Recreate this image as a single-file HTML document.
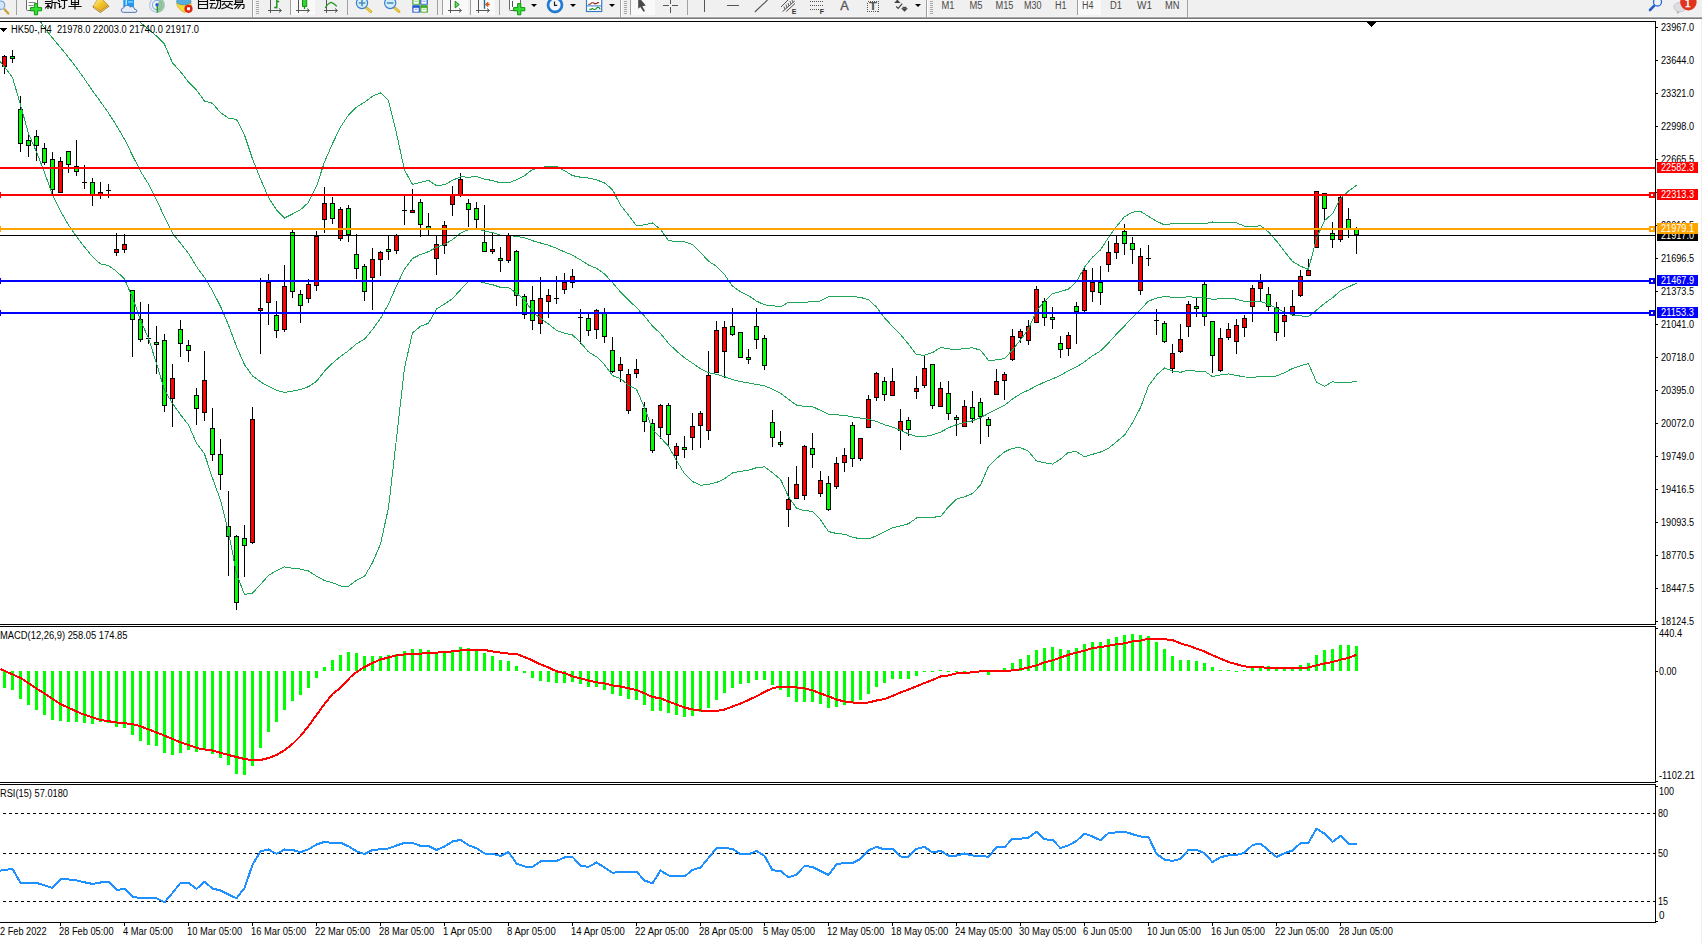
<!DOCTYPE html>
<html><head><meta charset="utf-8"><title>HK50-,H4</title>
<style>
html,body{margin:0;padding:0;background:#fff;overflow:hidden}
svg{display:block;font-family:"Liberation Sans",sans-serif}
</style></head><body>
<svg width="1702" height="943" viewBox="0 0 1702 943" shape-rendering="crispEdges">
<rect width="1702" height="943" fill="#fff"/>
<rect x="0" y="21" width="1656" height="1" fill="#000"/>
<rect x="0" y="624" width="1656" height="1" fill="#000"/>
<rect x="0" y="626" width="1656" height="1" fill="#000"/>
<rect x="0" y="782" width="1656" height="1" fill="#000"/>
<rect x="0" y="784" width="1656" height="1" fill="#000"/>
<rect x="0" y="922" width="1656" height="1" fill="#000"/>
<rect x="1655" y="21" width="1" height="604" fill="#000"/>
<rect x="1655" y="626" width="1" height="157" fill="#000"/>
<rect x="1655" y="784" width="1" height="139" fill="#000"/>
<rect x="4" y="55" width="1" height="19" fill="#000"/>
<rect x="2" y="56" width="5" height="11" fill="#000"/>
<rect x="3" y="57" width="3" height="9" fill="#f00"/>
<rect x="12" y="50" width="1" height="13" fill="#000"/>
<rect x="10" y="56" width="5" height="3" fill="#000"/>
<rect x="11" y="57" width="3" height="1" fill="#0f0"/>
<rect x="20" y="96" width="1" height="56" fill="#000"/>
<rect x="18" y="109" width="5" height="35" fill="#000"/>
<rect x="19" y="110" width="3" height="33" fill="#0f0"/>
<rect x="28" y="135" width="1" height="22" fill="#000"/>
<rect x="26" y="140" width="5" height="6" fill="#000"/>
<rect x="27" y="141" width="3" height="4" fill="#0f0"/>
<rect x="36" y="130" width="1" height="31" fill="#000"/>
<rect x="34" y="136" width="5" height="10" fill="#000"/>
<rect x="35" y="137" width="3" height="8" fill="#0f0"/>
<rect x="44" y="143" width="1" height="22" fill="#000"/>
<rect x="42" y="148" width="5" height="15" fill="#000"/>
<rect x="43" y="149" width="3" height="13" fill="#0f0"/>
<rect x="52" y="152" width="1" height="42" fill="#000"/>
<rect x="50" y="159" width="5" height="31" fill="#000"/>
<rect x="51" y="160" width="3" height="29" fill="#0f0"/>
<rect x="60" y="157" width="1" height="36" fill="#000"/>
<rect x="58" y="161" width="5" height="32" fill="#000"/>
<rect x="59" y="162" width="3" height="30" fill="#f00"/>
<rect x="68" y="151" width="1" height="22" fill="#000"/>
<rect x="66" y="151" width="5" height="14" fill="#000"/>
<rect x="67" y="152" width="3" height="12" fill="#0f0"/>
<rect x="76" y="140" width="1" height="36" fill="#000"/>
<rect x="74" y="166" width="5" height="6" fill="#000"/>
<rect x="75" y="167" width="3" height="4" fill="#0f0"/>
<rect x="84" y="165" width="1" height="24" fill="#000"/>
<rect x="82" y="182" width="5" height="1" fill="#000"/>
<rect x="92" y="178" width="1" height="28" fill="#000"/>
<rect x="90" y="182" width="5" height="13" fill="#000"/>
<rect x="91" y="183" width="3" height="11" fill="#0f0"/>
<rect x="100" y="182" width="1" height="17" fill="#000"/>
<rect x="98" y="192" width="5" height="3" fill="#000"/>
<rect x="99" y="193" width="3" height="1" fill="#f00"/>
<rect x="108" y="184" width="1" height="14" fill="#000"/>
<rect x="106" y="190" width="5" height="1" fill="#000"/>
<rect x="116" y="233" width="1" height="23" fill="#000"/>
<rect x="114" y="249" width="5" height="4" fill="#000"/>
<rect x="115" y="250" width="3" height="2" fill="#f00"/>
<rect x="124" y="234" width="1" height="19" fill="#000"/>
<rect x="122" y="244" width="5" height="6" fill="#000"/>
<rect x="123" y="245" width="3" height="4" fill="#f00"/>
<rect x="132" y="290" width="1" height="67" fill="#000"/>
<rect x="130" y="290" width="5" height="30" fill="#000"/>
<rect x="131" y="291" width="3" height="28" fill="#0f0"/>
<rect x="140" y="302" width="1" height="40" fill="#000"/>
<rect x="138" y="319" width="5" height="21" fill="#000"/>
<rect x="139" y="320" width="3" height="19" fill="#0f0"/>
<rect x="148" y="304" width="1" height="40" fill="#000"/>
<rect x="146" y="338" width="5" height="1" fill="#000"/>
<rect x="156" y="326" width="1" height="48" fill="#000"/>
<rect x="154" y="342" width="5" height="3" fill="#000"/>
<rect x="155" y="343" width="3" height="1" fill="#0f0"/>
<rect x="164" y="334" width="1" height="78" fill="#000"/>
<rect x="162" y="340" width="5" height="66" fill="#000"/>
<rect x="163" y="341" width="3" height="64" fill="#0f0"/>
<rect x="172" y="364" width="1" height="63" fill="#000"/>
<rect x="170" y="378" width="5" height="21" fill="#000"/>
<rect x="171" y="379" width="3" height="19" fill="#f00"/>
<rect x="180" y="320" width="1" height="37" fill="#000"/>
<rect x="178" y="329" width="5" height="15" fill="#000"/>
<rect x="179" y="330" width="3" height="13" fill="#0f0"/>
<rect x="188" y="340" width="1" height="22" fill="#000"/>
<rect x="186" y="345" width="5" height="6" fill="#000"/>
<rect x="187" y="346" width="3" height="4" fill="#0f0"/>
<rect x="196" y="388" width="1" height="37" fill="#000"/>
<rect x="194" y="395" width="5" height="14" fill="#000"/>
<rect x="195" y="396" width="3" height="12" fill="#0f0"/>
<rect x="204" y="351" width="1" height="70" fill="#000"/>
<rect x="202" y="380" width="5" height="33" fill="#000"/>
<rect x="203" y="381" width="3" height="31" fill="#f00"/>
<rect x="212" y="408" width="1" height="53" fill="#000"/>
<rect x="210" y="428" width="5" height="27" fill="#000"/>
<rect x="211" y="429" width="3" height="25" fill="#0f0"/>
<rect x="220" y="439" width="1" height="51" fill="#000"/>
<rect x="218" y="454" width="5" height="21" fill="#000"/>
<rect x="219" y="455" width="3" height="19" fill="#0f0"/>
<rect x="228" y="491" width="1" height="85" fill="#000"/>
<rect x="226" y="526" width="5" height="11" fill="#000"/>
<rect x="227" y="527" width="3" height="9" fill="#0f0"/>
<rect x="236" y="535" width="1" height="75" fill="#000"/>
<rect x="234" y="536" width="5" height="67" fill="#000"/>
<rect x="235" y="537" width="3" height="65" fill="#0f0"/>
<rect x="244" y="525" width="1" height="52" fill="#000"/>
<rect x="242" y="538" width="5" height="8" fill="#000"/>
<rect x="243" y="539" width="3" height="6" fill="#0f0"/>
<rect x="252" y="407" width="1" height="137" fill="#000"/>
<rect x="250" y="419" width="5" height="124" fill="#000"/>
<rect x="251" y="420" width="3" height="122" fill="#f00"/>
<rect x="260" y="278" width="1" height="76" fill="#000"/>
<rect x="258" y="308" width="5" height="3" fill="#000"/>
<rect x="259" y="309" width="3" height="1" fill="#f00"/>
<rect x="268" y="274" width="1" height="51" fill="#000"/>
<rect x="266" y="282" width="5" height="21" fill="#000"/>
<rect x="267" y="283" width="3" height="19" fill="#f00"/>
<rect x="276" y="301" width="1" height="37" fill="#000"/>
<rect x="274" y="315" width="5" height="16" fill="#000"/>
<rect x="275" y="316" width="3" height="14" fill="#0f0"/>
<rect x="284" y="265" width="1" height="67" fill="#000"/>
<rect x="282" y="286" width="5" height="44" fill="#000"/>
<rect x="283" y="287" width="3" height="42" fill="#f00"/>
<rect x="292" y="230" width="1" height="68" fill="#000"/>
<rect x="290" y="232" width="5" height="60" fill="#000"/>
<rect x="291" y="233" width="3" height="58" fill="#0f0"/>
<rect x="300" y="290" width="1" height="33" fill="#000"/>
<rect x="298" y="294" width="5" height="12" fill="#000"/>
<rect x="299" y="295" width="3" height="10" fill="#0f0"/>
<rect x="308" y="279" width="1" height="24" fill="#000"/>
<rect x="306" y="284" width="5" height="15" fill="#000"/>
<rect x="307" y="285" width="3" height="13" fill="#f00"/>
<rect x="316" y="231" width="1" height="60" fill="#000"/>
<rect x="314" y="236" width="5" height="50" fill="#000"/>
<rect x="315" y="237" width="3" height="48" fill="#f00"/>
<rect x="324" y="187" width="1" height="46" fill="#000"/>
<rect x="322" y="203" width="5" height="17" fill="#000"/>
<rect x="323" y="204" width="3" height="15" fill="#f00"/>
<rect x="332" y="197" width="1" height="27" fill="#000"/>
<rect x="330" y="203" width="5" height="16" fill="#000"/>
<rect x="331" y="204" width="3" height="14" fill="#0f0"/>
<rect x="340" y="207" width="1" height="34" fill="#000"/>
<rect x="338" y="209" width="5" height="30" fill="#000"/>
<rect x="339" y="210" width="3" height="28" fill="#f00"/>
<rect x="348" y="205" width="1" height="37" fill="#000"/>
<rect x="346" y="208" width="5" height="27" fill="#000"/>
<rect x="347" y="209" width="3" height="25" fill="#0f0"/>
<rect x="356" y="234" width="1" height="45" fill="#000"/>
<rect x="354" y="254" width="5" height="15" fill="#000"/>
<rect x="355" y="255" width="3" height="13" fill="#0f0"/>
<rect x="364" y="264" width="1" height="37" fill="#000"/>
<rect x="362" y="266" width="5" height="26" fill="#000"/>
<rect x="363" y="267" width="3" height="24" fill="#0f0"/>
<rect x="372" y="248" width="1" height="62" fill="#000"/>
<rect x="370" y="259" width="5" height="19" fill="#000"/>
<rect x="371" y="260" width="3" height="17" fill="#f00"/>
<rect x="380" y="251" width="1" height="25" fill="#000"/>
<rect x="378" y="252" width="5" height="8" fill="#000"/>
<rect x="379" y="253" width="3" height="6" fill="#f00"/>
<rect x="388" y="235" width="1" height="25" fill="#000"/>
<rect x="386" y="249" width="5" height="3" fill="#000"/>
<rect x="387" y="250" width="3" height="1" fill="#0f0"/>
<rect x="396" y="234" width="1" height="20" fill="#000"/>
<rect x="394" y="235" width="5" height="16" fill="#000"/>
<rect x="395" y="236" width="3" height="14" fill="#f00"/>
<rect x="404" y="196" width="1" height="29" fill="#000"/>
<rect x="402" y="210" width="5" height="1" fill="#000"/>
<rect x="412" y="189" width="1" height="24" fill="#000"/>
<rect x="410" y="210" width="5" height="3" fill="#000"/>
<rect x="411" y="211" width="3" height="1" fill="#f00"/>
<rect x="420" y="199" width="1" height="38" fill="#000"/>
<rect x="418" y="202" width="5" height="23" fill="#000"/>
<rect x="419" y="203" width="3" height="21" fill="#0f0"/>
<rect x="428" y="213" width="1" height="22" fill="#000"/>
<rect x="426" y="226" width="5" height="3" fill="#000"/>
<rect x="427" y="227" width="3" height="1" fill="#0f0"/>
<rect x="436" y="235" width="1" height="40" fill="#000"/>
<rect x="434" y="244" width="5" height="15" fill="#000"/>
<rect x="435" y="245" width="3" height="13" fill="#f00"/>
<rect x="444" y="221" width="1" height="33" fill="#000"/>
<rect x="442" y="225" width="5" height="21" fill="#000"/>
<rect x="443" y="226" width="3" height="19" fill="#f00"/>
<rect x="452" y="186" width="1" height="30" fill="#000"/>
<rect x="450" y="195" width="5" height="10" fill="#000"/>
<rect x="451" y="196" width="3" height="8" fill="#f00"/>
<rect x="460" y="173" width="1" height="24" fill="#000"/>
<rect x="458" y="179" width="5" height="16" fill="#000"/>
<rect x="459" y="180" width="3" height="14" fill="#f00"/>
<rect x="468" y="199" width="1" height="28" fill="#000"/>
<rect x="466" y="203" width="5" height="7" fill="#000"/>
<rect x="467" y="204" width="3" height="5" fill="#0f0"/>
<rect x="476" y="202" width="1" height="26" fill="#000"/>
<rect x="474" y="208" width="5" height="12" fill="#000"/>
<rect x="475" y="209" width="3" height="10" fill="#0f0"/>
<rect x="484" y="205" width="1" height="47" fill="#000"/>
<rect x="482" y="242" width="5" height="10" fill="#000"/>
<rect x="483" y="243" width="3" height="8" fill="#0f0"/>
<rect x="492" y="233" width="1" height="21" fill="#000"/>
<rect x="490" y="249" width="5" height="3" fill="#000"/>
<rect x="491" y="250" width="3" height="1" fill="#f00"/>
<rect x="500" y="247" width="1" height="25" fill="#000"/>
<rect x="498" y="258" width="5" height="3" fill="#000"/>
<rect x="499" y="259" width="3" height="1" fill="#0f0"/>
<rect x="508" y="233" width="1" height="30" fill="#000"/>
<rect x="506" y="235" width="5" height="26" fill="#000"/>
<rect x="507" y="236" width="3" height="24" fill="#f00"/>
<rect x="516" y="250" width="1" height="56" fill="#000"/>
<rect x="514" y="251" width="5" height="45" fill="#000"/>
<rect x="515" y="252" width="3" height="43" fill="#0f0"/>
<rect x="524" y="294" width="1" height="25" fill="#000"/>
<rect x="522" y="296" width="5" height="19" fill="#000"/>
<rect x="523" y="297" width="3" height="17" fill="#0f0"/>
<rect x="532" y="286" width="1" height="44" fill="#000"/>
<rect x="530" y="300" width="5" height="21" fill="#000"/>
<rect x="531" y="301" width="3" height="19" fill="#0f0"/>
<rect x="540" y="277" width="1" height="57" fill="#000"/>
<rect x="538" y="298" width="5" height="26" fill="#000"/>
<rect x="539" y="299" width="3" height="24" fill="#f00"/>
<rect x="548" y="289" width="1" height="29" fill="#000"/>
<rect x="546" y="295" width="5" height="7" fill="#000"/>
<rect x="547" y="296" width="3" height="5" fill="#f00"/>
<rect x="556" y="276" width="1" height="28" fill="#000"/>
<rect x="554" y="298" width="5" height="1" fill="#000"/>
<rect x="564" y="273" width="1" height="21" fill="#000"/>
<rect x="562" y="282" width="5" height="8" fill="#000"/>
<rect x="563" y="283" width="3" height="6" fill="#f00"/>
<rect x="572" y="269" width="1" height="19" fill="#000"/>
<rect x="570" y="276" width="5" height="7" fill="#000"/>
<rect x="571" y="277" width="3" height="5" fill="#f00"/>
<rect x="580" y="309" width="1" height="35" fill="#000"/>
<rect x="578" y="317" width="5" height="1" fill="#000"/>
<rect x="588" y="314" width="1" height="22" fill="#000"/>
<rect x="586" y="318" width="5" height="13" fill="#000"/>
<rect x="587" y="319" width="3" height="11" fill="#0f0"/>
<rect x="596" y="309" width="1" height="30" fill="#000"/>
<rect x="594" y="310" width="5" height="20" fill="#000"/>
<rect x="595" y="311" width="3" height="18" fill="#f00"/>
<rect x="604" y="308" width="1" height="35" fill="#000"/>
<rect x="602" y="313" width="5" height="24" fill="#000"/>
<rect x="603" y="314" width="3" height="22" fill="#0f0"/>
<rect x="612" y="337" width="1" height="36" fill="#000"/>
<rect x="610" y="350" width="5" height="22" fill="#000"/>
<rect x="611" y="351" width="3" height="20" fill="#0f0"/>
<rect x="620" y="357" width="1" height="25" fill="#000"/>
<rect x="618" y="364" width="5" height="7" fill="#000"/>
<rect x="619" y="365" width="3" height="5" fill="#f00"/>
<rect x="628" y="369" width="1" height="45" fill="#000"/>
<rect x="626" y="374" width="5" height="37" fill="#000"/>
<rect x="627" y="375" width="3" height="35" fill="#f00"/>
<rect x="636" y="359" width="1" height="19" fill="#000"/>
<rect x="634" y="369" width="5" height="5" fill="#000"/>
<rect x="635" y="370" width="3" height="3" fill="#f00"/>
<rect x="644" y="402" width="1" height="30" fill="#000"/>
<rect x="642" y="408" width="5" height="14" fill="#000"/>
<rect x="643" y="409" width="3" height="12" fill="#0f0"/>
<rect x="652" y="419" width="1" height="34" fill="#000"/>
<rect x="650" y="423" width="5" height="28" fill="#000"/>
<rect x="651" y="424" width="3" height="26" fill="#0f0"/>
<rect x="660" y="404" width="1" height="35" fill="#000"/>
<rect x="658" y="405" width="5" height="23" fill="#000"/>
<rect x="659" y="406" width="3" height="21" fill="#f00"/>
<rect x="668" y="403" width="1" height="42" fill="#000"/>
<rect x="666" y="405" width="5" height="30" fill="#000"/>
<rect x="667" y="406" width="3" height="28" fill="#0f0"/>
<rect x="676" y="443" width="1" height="26" fill="#000"/>
<rect x="674" y="446" width="5" height="10" fill="#000"/>
<rect x="675" y="447" width="3" height="8" fill="#f00"/>
<rect x="684" y="436" width="1" height="22" fill="#000"/>
<rect x="682" y="447" width="5" height="3" fill="#000"/>
<rect x="683" y="448" width="3" height="1" fill="#0f0"/>
<rect x="692" y="413" width="1" height="37" fill="#000"/>
<rect x="690" y="426" width="5" height="12" fill="#000"/>
<rect x="691" y="427" width="3" height="10" fill="#f00"/>
<rect x="700" y="411" width="1" height="37" fill="#000"/>
<rect x="698" y="413" width="5" height="13" fill="#000"/>
<rect x="699" y="414" width="3" height="11" fill="#f00"/>
<rect x="708" y="351" width="1" height="89" fill="#000"/>
<rect x="706" y="375" width="5" height="56" fill="#000"/>
<rect x="707" y="376" width="3" height="54" fill="#f00"/>
<rect x="716" y="321" width="1" height="52" fill="#000"/>
<rect x="714" y="330" width="5" height="43" fill="#000"/>
<rect x="715" y="331" width="3" height="41" fill="#f00"/>
<rect x="724" y="321" width="1" height="57" fill="#000"/>
<rect x="722" y="327" width="5" height="25" fill="#000"/>
<rect x="723" y="328" width="3" height="23" fill="#f00"/>
<rect x="732" y="308" width="1" height="28" fill="#000"/>
<rect x="730" y="326" width="5" height="9" fill="#000"/>
<rect x="731" y="327" width="3" height="7" fill="#0f0"/>
<rect x="740" y="332" width="1" height="26" fill="#000"/>
<rect x="738" y="332" width="5" height="26" fill="#000"/>
<rect x="739" y="333" width="3" height="24" fill="#0f0"/>
<rect x="748" y="349" width="1" height="15" fill="#000"/>
<rect x="746" y="357" width="5" height="3" fill="#000"/>
<rect x="747" y="358" width="3" height="1" fill="#0f0"/>
<rect x="756" y="308" width="1" height="41" fill="#000"/>
<rect x="754" y="326" width="5" height="14" fill="#000"/>
<rect x="755" y="327" width="3" height="12" fill="#0f0"/>
<rect x="764" y="335" width="1" height="35" fill="#000"/>
<rect x="762" y="338" width="5" height="28" fill="#000"/>
<rect x="763" y="339" width="3" height="26" fill="#0f0"/>
<rect x="772" y="410" width="1" height="37" fill="#000"/>
<rect x="770" y="422" width="5" height="16" fill="#000"/>
<rect x="771" y="423" width="3" height="14" fill="#0f0"/>
<rect x="780" y="431" width="1" height="16" fill="#000"/>
<rect x="778" y="442" width="5" height="3" fill="#000"/>
<rect x="779" y="443" width="3" height="1" fill="#0f0"/>
<rect x="788" y="477" width="1" height="50" fill="#000"/>
<rect x="786" y="499" width="5" height="11" fill="#000"/>
<rect x="787" y="500" width="3" height="9" fill="#f00"/>
<rect x="796" y="466" width="1" height="33" fill="#000"/>
<rect x="794" y="484" width="5" height="15" fill="#000"/>
<rect x="795" y="485" width="3" height="13" fill="#f00"/>
<rect x="804" y="445" width="1" height="55" fill="#000"/>
<rect x="802" y="446" width="5" height="50" fill="#000"/>
<rect x="803" y="447" width="3" height="48" fill="#f00"/>
<rect x="812" y="433" width="1" height="35" fill="#000"/>
<rect x="810" y="448" width="5" height="7" fill="#000"/>
<rect x="811" y="449" width="3" height="5" fill="#0f0"/>
<rect x="820" y="471" width="1" height="26" fill="#000"/>
<rect x="818" y="480" width="5" height="14" fill="#000"/>
<rect x="819" y="481" width="3" height="12" fill="#f00"/>
<rect x="828" y="476" width="1" height="35" fill="#000"/>
<rect x="826" y="483" width="5" height="27" fill="#000"/>
<rect x="827" y="484" width="3" height="25" fill="#0f0"/>
<rect x="836" y="457" width="1" height="32" fill="#000"/>
<rect x="834" y="463" width="5" height="24" fill="#000"/>
<rect x="835" y="464" width="3" height="22" fill="#f00"/>
<rect x="844" y="448" width="1" height="24" fill="#000"/>
<rect x="842" y="455" width="5" height="8" fill="#000"/>
<rect x="843" y="456" width="3" height="6" fill="#f00"/>
<rect x="852" y="422" width="1" height="45" fill="#000"/>
<rect x="850" y="425" width="5" height="34" fill="#000"/>
<rect x="851" y="426" width="3" height="32" fill="#0f0"/>
<rect x="860" y="438" width="1" height="23" fill="#000"/>
<rect x="858" y="438" width="5" height="21" fill="#000"/>
<rect x="859" y="439" width="3" height="19" fill="#f00"/>
<rect x="868" y="395" width="1" height="33" fill="#000"/>
<rect x="866" y="399" width="5" height="29" fill="#000"/>
<rect x="867" y="400" width="3" height="27" fill="#f00"/>
<rect x="876" y="372" width="1" height="29" fill="#000"/>
<rect x="874" y="373" width="5" height="25" fill="#000"/>
<rect x="875" y="374" width="3" height="23" fill="#f00"/>
<rect x="884" y="377" width="1" height="24" fill="#000"/>
<rect x="882" y="381" width="5" height="14" fill="#000"/>
<rect x="883" y="382" width="3" height="12" fill="#0f0"/>
<rect x="892" y="368" width="1" height="28" fill="#000"/>
<rect x="890" y="381" width="5" height="15" fill="#000"/>
<rect x="891" y="382" width="3" height="13" fill="#f00"/>
<rect x="900" y="409" width="1" height="41" fill="#000"/>
<rect x="898" y="421" width="5" height="10" fill="#000"/>
<rect x="899" y="422" width="3" height="8" fill="#f00"/>
<rect x="908" y="417" width="1" height="19" fill="#000"/>
<rect x="906" y="420" width="5" height="10" fill="#000"/>
<rect x="907" y="421" width="3" height="8" fill="#0f0"/>
<rect x="916" y="376" width="1" height="23" fill="#000"/>
<rect x="914" y="388" width="5" height="4" fill="#000"/>
<rect x="915" y="389" width="3" height="2" fill="#f00"/>
<rect x="924" y="356" width="1" height="32" fill="#000"/>
<rect x="922" y="368" width="5" height="18" fill="#000"/>
<rect x="923" y="369" width="3" height="16" fill="#f00"/>
<rect x="932" y="364" width="1" height="45" fill="#000"/>
<rect x="930" y="364" width="5" height="42" fill="#000"/>
<rect x="931" y="365" width="3" height="40" fill="#0f0"/>
<rect x="940" y="382" width="1" height="25" fill="#000"/>
<rect x="938" y="388" width="5" height="19" fill="#000"/>
<rect x="939" y="389" width="3" height="17" fill="#f00"/>
<rect x="948" y="381" width="1" height="39" fill="#000"/>
<rect x="946" y="393" width="5" height="21" fill="#000"/>
<rect x="947" y="394" width="3" height="19" fill="#0f0"/>
<rect x="956" y="415" width="1" height="21" fill="#000"/>
<rect x="954" y="417" width="5" height="3" fill="#000"/>
<rect x="955" y="418" width="3" height="1" fill="#0f0"/>
<rect x="964" y="400" width="1" height="27" fill="#000"/>
<rect x="962" y="406" width="5" height="21" fill="#000"/>
<rect x="963" y="407" width="3" height="19" fill="#f00"/>
<rect x="972" y="391" width="1" height="32" fill="#000"/>
<rect x="970" y="407" width="5" height="12" fill="#000"/>
<rect x="971" y="408" width="3" height="10" fill="#0f0"/>
<rect x="980" y="398" width="1" height="46" fill="#000"/>
<rect x="978" y="402" width="5" height="15" fill="#000"/>
<rect x="979" y="403" width="3" height="13" fill="#0f0"/>
<rect x="988" y="417" width="1" height="20" fill="#000"/>
<rect x="986" y="419" width="5" height="7" fill="#000"/>
<rect x="987" y="420" width="3" height="5" fill="#0f0"/>
<rect x="996" y="369" width="1" height="26" fill="#000"/>
<rect x="994" y="381" width="5" height="14" fill="#000"/>
<rect x="995" y="382" width="3" height="12" fill="#f00"/>
<rect x="1004" y="372" width="1" height="28" fill="#000"/>
<rect x="1002" y="374" width="5" height="7" fill="#000"/>
<rect x="1003" y="375" width="3" height="5" fill="#f00"/>
<rect x="1012" y="329" width="1" height="32" fill="#000"/>
<rect x="1010" y="336" width="5" height="24" fill="#000"/>
<rect x="1011" y="337" width="3" height="22" fill="#f00"/>
<rect x="1020" y="329" width="1" height="14" fill="#000"/>
<rect x="1018" y="331" width="5" height="7" fill="#000"/>
<rect x="1019" y="332" width="3" height="5" fill="#f00"/>
<rect x="1028" y="320" width="1" height="25" fill="#000"/>
<rect x="1026" y="326" width="5" height="15" fill="#000"/>
<rect x="1027" y="327" width="3" height="13" fill="#f00"/>
<rect x="1036" y="286" width="1" height="37" fill="#000"/>
<rect x="1034" y="289" width="5" height="34" fill="#000"/>
<rect x="1035" y="290" width="3" height="32" fill="#f00"/>
<rect x="1044" y="298" width="1" height="28" fill="#000"/>
<rect x="1042" y="301" width="5" height="17" fill="#000"/>
<rect x="1043" y="302" width="3" height="15" fill="#0f0"/>
<rect x="1052" y="307" width="1" height="22" fill="#000"/>
<rect x="1050" y="317" width="5" height="3" fill="#000"/>
<rect x="1051" y="318" width="3" height="1" fill="#0f0"/>
<rect x="1060" y="336" width="1" height="22" fill="#000"/>
<rect x="1058" y="343" width="5" height="7" fill="#000"/>
<rect x="1059" y="344" width="3" height="5" fill="#0f0"/>
<rect x="1068" y="332" width="1" height="24" fill="#000"/>
<rect x="1066" y="335" width="5" height="14" fill="#000"/>
<rect x="1067" y="336" width="3" height="12" fill="#f00"/>
<rect x="1076" y="302" width="1" height="42" fill="#000"/>
<rect x="1074" y="306" width="5" height="6" fill="#000"/>
<rect x="1075" y="307" width="3" height="4" fill="#0f0"/>
<rect x="1084" y="266" width="1" height="46" fill="#000"/>
<rect x="1082" y="270" width="5" height="41" fill="#000"/>
<rect x="1083" y="271" width="3" height="39" fill="#f00"/>
<rect x="1092" y="268" width="1" height="34" fill="#000"/>
<rect x="1090" y="282" width="5" height="10" fill="#000"/>
<rect x="1091" y="283" width="3" height="8" fill="#f00"/>
<rect x="1100" y="266" width="1" height="39" fill="#000"/>
<rect x="1098" y="282" width="5" height="11" fill="#000"/>
<rect x="1099" y="283" width="3" height="9" fill="#0f0"/>
<rect x="1108" y="241" width="1" height="31" fill="#000"/>
<rect x="1106" y="252" width="5" height="13" fill="#000"/>
<rect x="1107" y="253" width="3" height="11" fill="#f00"/>
<rect x="1116" y="235" width="1" height="24" fill="#000"/>
<rect x="1114" y="243" width="5" height="10" fill="#000"/>
<rect x="1115" y="244" width="3" height="8" fill="#f00"/>
<rect x="1124" y="224" width="1" height="31" fill="#000"/>
<rect x="1122" y="231" width="5" height="13" fill="#000"/>
<rect x="1123" y="232" width="3" height="11" fill="#0f0"/>
<rect x="1132" y="237" width="1" height="27" fill="#000"/>
<rect x="1130" y="243" width="5" height="7" fill="#000"/>
<rect x="1131" y="244" width="3" height="5" fill="#0f0"/>
<rect x="1140" y="248" width="1" height="47" fill="#000"/>
<rect x="1138" y="256" width="5" height="35" fill="#000"/>
<rect x="1139" y="257" width="3" height="33" fill="#f00"/>
<rect x="1148" y="245" width="1" height="21" fill="#000"/>
<rect x="1146" y="258" width="5" height="1" fill="#000"/>
<rect x="1156" y="309" width="1" height="26" fill="#000"/>
<rect x="1154" y="320" width="5" height="1" fill="#000"/>
<rect x="1164" y="321" width="1" height="22" fill="#000"/>
<rect x="1162" y="323" width="5" height="19" fill="#000"/>
<rect x="1163" y="324" width="3" height="17" fill="#0f0"/>
<rect x="1172" y="344" width="1" height="29" fill="#000"/>
<rect x="1170" y="353" width="5" height="16" fill="#000"/>
<rect x="1171" y="354" width="3" height="14" fill="#f00"/>
<rect x="1180" y="324" width="1" height="29" fill="#000"/>
<rect x="1178" y="339" width="5" height="13" fill="#000"/>
<rect x="1179" y="340" width="3" height="11" fill="#f00"/>
<rect x="1188" y="301" width="1" height="36" fill="#000"/>
<rect x="1186" y="304" width="5" height="23" fill="#000"/>
<rect x="1187" y="305" width="3" height="21" fill="#f00"/>
<rect x="1196" y="298" width="1" height="19" fill="#000"/>
<rect x="1194" y="306" width="5" height="3" fill="#000"/>
<rect x="1195" y="307" width="3" height="1" fill="#0f0"/>
<rect x="1204" y="282" width="1" height="44" fill="#000"/>
<rect x="1202" y="284" width="5" height="33" fill="#000"/>
<rect x="1203" y="285" width="3" height="31" fill="#0f0"/>
<rect x="1212" y="321" width="1" height="52" fill="#000"/>
<rect x="1210" y="321" width="5" height="35" fill="#000"/>
<rect x="1211" y="322" width="3" height="33" fill="#0f0"/>
<rect x="1220" y="328" width="1" height="44" fill="#000"/>
<rect x="1218" y="338" width="5" height="33" fill="#000"/>
<rect x="1219" y="339" width="3" height="31" fill="#f00"/>
<rect x="1228" y="323" width="1" height="17" fill="#000"/>
<rect x="1226" y="329" width="5" height="9" fill="#000"/>
<rect x="1227" y="330" width="3" height="7" fill="#f00"/>
<rect x="1236" y="319" width="1" height="35" fill="#000"/>
<rect x="1234" y="325" width="5" height="17" fill="#000"/>
<rect x="1235" y="326" width="3" height="15" fill="#f00"/>
<rect x="1244" y="315" width="1" height="22" fill="#000"/>
<rect x="1242" y="318" width="5" height="10" fill="#000"/>
<rect x="1243" y="319" width="3" height="8" fill="#f00"/>
<rect x="1252" y="285" width="1" height="37" fill="#000"/>
<rect x="1250" y="288" width="5" height="19" fill="#000"/>
<rect x="1251" y="289" width="3" height="17" fill="#f00"/>
<rect x="1260" y="274" width="1" height="27" fill="#000"/>
<rect x="1258" y="282" width="5" height="7" fill="#000"/>
<rect x="1259" y="283" width="3" height="5" fill="#f00"/>
<rect x="1268" y="287" width="1" height="24" fill="#000"/>
<rect x="1266" y="294" width="5" height="13" fill="#000"/>
<rect x="1267" y="295" width="3" height="11" fill="#0f0"/>
<rect x="1276" y="302" width="1" height="39" fill="#000"/>
<rect x="1274" y="307" width="5" height="26" fill="#000"/>
<rect x="1275" y="308" width="3" height="24" fill="#0f0"/>
<rect x="1284" y="307" width="1" height="30" fill="#000"/>
<rect x="1282" y="315" width="5" height="7" fill="#000"/>
<rect x="1283" y="316" width="3" height="5" fill="#f00"/>
<rect x="1292" y="290" width="1" height="26" fill="#000"/>
<rect x="1290" y="306" width="5" height="9" fill="#000"/>
<rect x="1291" y="307" width="3" height="7" fill="#f00"/>
<rect x="1300" y="270" width="1" height="27" fill="#000"/>
<rect x="1298" y="276" width="5" height="20" fill="#000"/>
<rect x="1299" y="277" width="3" height="18" fill="#f00"/>
<rect x="1308" y="259" width="1" height="17" fill="#000"/>
<rect x="1306" y="270" width="5" height="6" fill="#000"/>
<rect x="1307" y="271" width="3" height="4" fill="#f00"/>
<rect x="1316" y="191" width="1" height="57" fill="#000"/>
<rect x="1314" y="191" width="5" height="57" fill="#000"/>
<rect x="1315" y="192" width="3" height="55" fill="#f00"/>
<rect x="1324" y="193" width="1" height="27" fill="#000"/>
<rect x="1322" y="193" width="5" height="16" fill="#000"/>
<rect x="1323" y="194" width="3" height="14" fill="#0f0"/>
<rect x="1332" y="222" width="1" height="26" fill="#000"/>
<rect x="1330" y="233" width="5" height="7" fill="#000"/>
<rect x="1331" y="234" width="3" height="5" fill="#0f0"/>
<rect x="1340" y="196" width="1" height="46" fill="#000"/>
<rect x="1338" y="197" width="5" height="43" fill="#000"/>
<rect x="1339" y="198" width="3" height="41" fill="#f00"/>
<rect x="1348" y="208" width="1" height="30" fill="#000"/>
<rect x="1346" y="219" width="5" height="11" fill="#000"/>
<rect x="1347" y="220" width="3" height="9" fill="#0f0"/>
<rect x="1356" y="227" width="1" height="27" fill="#000"/>
<rect x="1354" y="229" width="5" height="6" fill="#000"/>
<rect x="1355" y="230" width="3" height="4" fill="#0f0"/>
<polyline points="139.8,22.0 140.5,22.6 148.5,29.2 156.5,36.1 164.5,44.2 172.5,62.9 180.5,71.7 188.5,82.0 196.5,90.0 204.5,101.1 212.5,103.3 220.5,112.6 228.5,118.2 236.5,119.4 244.5,134.9 252.5,158.9 260.5,178.9 268.5,197.4 276.5,210.0 284.5,218.1 292.5,214.0 300.5,209.7 308.5,202.4 316.5,186.4 324.5,161.9 332.5,143.7 340.5,127.0 348.5,115.1 356.5,107.1 364.5,102.2 372.5,96.2 380.5,92.8 388.5,100.5 396.5,133.3 404.5,170.1 412.5,184.4 420.5,182.5 428.5,180.2 436.5,185.7 444.5,184.7 452.5,180.4 460.5,176.7 468.5,177.3 476.5,176.4 484.5,179.2 492.5,180.5 500.5,182.9 508.5,182.9 516.5,179.7 524.5,175.7 532.5,169.5 540.5,167.6 548.5,166.4 556.5,166.4 564.5,170.6 572.5,175.6 580.5,177.2 588.5,178.1 596.5,179.8 604.5,182.9 612.5,189.7 620.5,205.2 628.5,215.0 636.5,225.9 644.5,224.8 652.5,222.9 660.5,229.5 668.5,240.7 676.5,241.5 684.5,241.7 692.5,244.6 700.5,252.3 708.5,261.2 716.5,266.3 724.5,274.6 732.5,286.1 740.5,291.8 748.5,295.6 756.5,301.1 764.5,304.9 772.5,305.5 780.5,307.0 788.5,302.1 796.5,302.2 804.5,302.1 812.5,301.9 820.5,300.9 828.5,296.7 836.5,296.4 844.5,296.3 852.5,296.5 860.5,297.4 868.5,299.8 876.5,307.0 884.5,317.9 892.5,326.4 900.5,334.7 908.5,344.1 916.5,354.7 924.5,355.3 932.5,352.6 940.5,347.5 948.5,348.8 956.5,350.0 964.5,348.3 972.5,347.9 980.5,350.1 988.5,360.4 996.5,359.9 1004.5,358.5 1012.5,350.0 1020.5,339.9 1028.5,328.9 1036.5,310.8 1044.5,301.4 1052.5,293.8 1060.5,291.6 1068.5,289.1 1076.5,281.8 1084.5,267.1 1092.5,257.2 1100.5,249.9 1108.5,237.5 1116.5,226.4 1124.5,216.7 1132.5,212.2 1140.5,211.4 1148.5,216.4 1156.5,221.2 1164.5,224.9 1172.5,223.5 1180.5,223.1 1188.5,223.1 1196.5,223.9 1204.5,223.9 1212.5,222.0 1220.5,222.7 1228.5,223.0 1236.5,222.9 1244.5,226.1 1252.5,226.6 1260.5,225.8 1268.5,231.9 1276.5,241.0 1284.5,251.5 1292.5,261.4 1300.5,266.2 1308.5,269.4 1316.5,238.1 1324.5,220.6 1332.5,213.7 1340.5,198.4 1348.5,191.1 1356.5,185.4" fill="none" stroke="#20A558" stroke-width="1" />
<polyline points="40.6,22.0 44.5,28.0 52.5,38.0 60.5,47.5 68.5,57.4 76.5,67.7 84.5,79.0 92.5,90.8 100.5,101.7 108.5,113.0 116.5,125.5 124.5,139.3 132.5,155.4 140.5,171.3 148.5,184.0 156.5,199.7 164.5,217.2 172.5,233.2 180.5,243.2 188.5,253.4 196.5,266.6 204.5,277.5 212.5,290.8 220.5,306.4 228.5,325.0 236.5,346.6 244.5,364.7 252.5,375.9 260.5,381.8 268.5,386.4 276.5,390.4 284.5,392.5 292.5,391.1 300.5,389.4 308.5,386.7 316.5,381.3 324.5,371.2 332.5,363.2 340.5,356.5 348.5,350.7 356.5,343.7 364.5,339.2 372.5,329.5 380.5,318.4 388.5,304.1 396.5,285.8 404.5,269.1 412.5,258.6 420.5,254.4 428.5,251.7 436.5,247.4 444.5,244.3 452.5,239.6 460.5,233.2 468.5,229.5 476.5,228.7 484.5,231.1 492.5,232.6 500.5,235.1 508.5,235.2 516.5,236.5 524.5,237.7 532.5,240.7 540.5,243.0 548.5,245.2 556.5,248.3 564.5,251.9 572.5,255.2 580.5,259.9 588.5,265.0 596.5,268.3 604.5,273.9 612.5,282.6 620.5,291.9 628.5,300.1 636.5,307.6 644.5,316.1 652.5,326.2 660.5,333.5 668.5,343.4 676.5,351.0 684.5,357.8 692.5,363.1 700.5,368.8 708.5,372.8 716.5,374.4 724.5,376.6 732.5,379.6 740.5,381.6 748.5,382.9 756.5,384.4 764.5,385.9 772.5,389.1 780.5,393.1 788.5,399.4 796.5,405.1 804.5,406.4 812.5,406.6 820.5,410.4 828.5,414.1 836.5,414.9 844.5,415.2 852.5,416.9 860.5,418.1 868.5,419.3 876.5,421.4 884.5,424.8 892.5,427.1 900.5,430.4 908.5,433.9 916.5,436.4 924.5,436.5 932.5,434.9 940.5,432.1 948.5,427.8 956.5,424.6 964.5,422.6 972.5,420.8 980.5,417.6 988.5,413.4 996.5,409.2 1004.5,405.2 1012.5,399.1 1020.5,393.8 1028.5,390.1 1036.5,385.9 1044.5,382.1 1052.5,378.9 1060.5,375.4 1068.5,370.6 1076.5,366.8 1084.5,361.9 1092.5,355.8 1100.5,350.9 1108.5,342.9 1116.5,334.1 1124.5,325.9 1132.5,317.5 1140.5,309.5 1148.5,301.1 1156.5,298.1 1164.5,296.4 1172.5,297.3 1180.5,297.7 1188.5,296.6 1196.5,297.6 1204.5,297.5 1212.5,299.3 1220.5,298.8 1228.5,298.4 1236.5,299.1 1244.5,301.6 1252.5,301.9 1260.5,301.4 1268.5,304.1 1276.5,308.5 1284.5,312.1 1292.5,314.9 1300.5,315.9 1308.5,316.6 1316.5,310.1 1324.5,303.4 1332.5,297.8 1340.5,290.6 1348.5,286.9 1356.5,283.2" fill="none" stroke="#20A558" stroke-width="1" />
<polyline points="-3.5,57.0 4.5,67.0 12.5,77.5 20.5,105.0 28.5,133.5 36.5,152.0 44.5,172.3 52.5,195.0 60.5,211.0 68.5,225.0 76.5,236.5 84.5,247.0 92.5,256.7 100.5,264.0 108.5,265.5 116.5,271.3 124.5,279.0 132.5,297.5 140.5,320.0 148.5,338.5 156.5,363.3 164.5,390.1 172.5,403.5 180.5,414.7 188.5,424.9 196.5,443.2 204.5,453.9 212.5,478.2 220.5,500.2 228.5,531.8 236.5,573.7 244.5,594.5 252.5,593.0 260.5,584.6 268.5,575.3 276.5,570.8 284.5,566.9 292.5,568.2 300.5,569.1 308.5,571.0 316.5,576.2 324.5,580.5 332.5,582.7 340.5,586.0 348.5,586.3 356.5,580.3 364.5,576.3 372.5,562.8 380.5,544.0 388.5,507.8 396.5,438.3 404.5,368.0 412.5,332.8 420.5,326.3 428.5,323.2 436.5,309.1 444.5,304.0 452.5,298.7 460.5,289.8 468.5,281.7 476.5,280.9 484.5,282.9 492.5,284.7 500.5,287.3 508.5,287.4 516.5,293.3 524.5,299.6 532.5,311.9 540.5,318.4 548.5,324.0 556.5,330.3 564.5,333.3 572.5,334.9 580.5,342.6 588.5,351.9 596.5,356.8 604.5,364.8 612.5,375.6 620.5,378.6 628.5,385.3 636.5,389.4 644.5,407.5 652.5,429.5 660.5,437.5 668.5,446.2 676.5,460.5 684.5,473.8 692.5,481.5 700.5,485.3 708.5,484.4 716.5,482.5 724.5,478.7 732.5,473.0 740.5,471.3 748.5,470.3 756.5,467.7 764.5,466.8 772.5,472.8 780.5,479.3 788.5,496.7 796.5,508.1 804.5,510.7 812.5,511.3 820.5,519.8 828.5,531.5 836.5,533.5 844.5,534.2 852.5,537.2 860.5,538.8 868.5,538.8 876.5,535.9 884.5,531.7 892.5,527.9 900.5,526.0 908.5,523.7 916.5,518.0 924.5,517.7 932.5,517.2 940.5,516.7 948.5,506.8 956.5,499.1 964.5,496.8 972.5,493.6 980.5,485.0 988.5,466.3 996.5,458.6 1004.5,451.9 1012.5,448.2 1020.5,447.6 1028.5,451.3 1036.5,461.0 1044.5,462.7 1052.5,464.1 1060.5,459.1 1068.5,452.2 1076.5,451.8 1084.5,456.7 1092.5,454.3 1100.5,452.0 1108.5,448.3 1116.5,441.8 1124.5,435.2 1132.5,422.8 1140.5,407.6 1148.5,385.9 1156.5,375.0 1164.5,368.0 1172.5,371.1 1180.5,372.3 1188.5,370.1 1196.5,371.2 1204.5,371.1 1212.5,376.6 1220.5,374.8 1228.5,373.9 1236.5,375.4 1244.5,377.0 1252.5,377.1 1260.5,376.9 1268.5,376.2 1276.5,376.0 1284.5,372.7 1292.5,368.5 1300.5,365.7 1308.5,363.7 1316.5,382.1 1324.5,386.3 1332.5,381.8 1340.5,382.9 1348.5,382.7 1356.5,381.0" fill="none" stroke="#20A558" stroke-width="1" />
<rect x="1656" y="27" width="2" height="1" fill="#000"/>
<text x="1661" y="31" font-size="10" fill="#000" textLength="33" lengthAdjust="spacingAndGlyphs">23967.0</text>
<rect x="1656" y="60" width="2" height="1" fill="#000"/>
<text x="1661" y="64" font-size="10" fill="#000" textLength="33" lengthAdjust="spacingAndGlyphs">23644.0</text>
<rect x="1656" y="93" width="2" height="1" fill="#000"/>
<text x="1661" y="97" font-size="10" fill="#000" textLength="33" lengthAdjust="spacingAndGlyphs">23321.0</text>
<rect x="1656" y="126" width="2" height="1" fill="#000"/>
<text x="1661" y="130" font-size="10" fill="#000" textLength="33" lengthAdjust="spacingAndGlyphs">22998.0</text>
<rect x="1656" y="159" width="2" height="1" fill="#000"/>
<text x="1661" y="163" font-size="10" fill="#000" textLength="33" lengthAdjust="spacingAndGlyphs">22665.5</text>
<rect x="1656" y="192" width="2" height="1" fill="#000"/>
<rect x="1656" y="225" width="2" height="1" fill="#000"/>
<text x="1661" y="229" font-size="10" fill="#000" textLength="33" lengthAdjust="spacingAndGlyphs">22019.5</text>
<rect x="1656" y="258" width="2" height="1" fill="#000"/>
<text x="1661" y="262" font-size="10" fill="#000" textLength="33" lengthAdjust="spacingAndGlyphs">21696.5</text>
<rect x="1656" y="291" width="2" height="1" fill="#000"/>
<text x="1661" y="295" font-size="10" fill="#000" textLength="33" lengthAdjust="spacingAndGlyphs">21373.5</text>
<rect x="1656" y="324" width="2" height="1" fill="#000"/>
<text x="1661" y="328" font-size="10" fill="#000" textLength="33" lengthAdjust="spacingAndGlyphs">21041.0</text>
<rect x="1656" y="357" width="2" height="1" fill="#000"/>
<text x="1661" y="361" font-size="10" fill="#000" textLength="33" lengthAdjust="spacingAndGlyphs">20718.0</text>
<rect x="1656" y="390" width="2" height="1" fill="#000"/>
<text x="1661" y="394" font-size="10" fill="#000" textLength="33" lengthAdjust="spacingAndGlyphs">20395.0</text>
<rect x="1656" y="423" width="2" height="1" fill="#000"/>
<text x="1661" y="427" font-size="10" fill="#000" textLength="33" lengthAdjust="spacingAndGlyphs">20072.0</text>
<rect x="1656" y="456" width="2" height="1" fill="#000"/>
<text x="1661" y="460" font-size="10" fill="#000" textLength="33" lengthAdjust="spacingAndGlyphs">19749.0</text>
<rect x="1656" y="489" width="2" height="1" fill="#000"/>
<text x="1661" y="493" font-size="10" fill="#000" textLength="33" lengthAdjust="spacingAndGlyphs">19416.5</text>
<rect x="1656" y="522" width="2" height="1" fill="#000"/>
<text x="1661" y="526" font-size="10" fill="#000" textLength="33" lengthAdjust="spacingAndGlyphs">19093.5</text>
<rect x="1656" y="555" width="2" height="1" fill="#000"/>
<text x="1661" y="559" font-size="10" fill="#000" textLength="33" lengthAdjust="spacingAndGlyphs">18770.5</text>
<rect x="1656" y="588" width="2" height="1" fill="#000"/>
<text x="1661" y="592" font-size="10" fill="#000" textLength="33" lengthAdjust="spacingAndGlyphs">18447.5</text>
<rect x="1656" y="621" width="2" height="1" fill="#000"/>
<text x="1661" y="625" font-size="10" fill="#000" textLength="33" lengthAdjust="spacingAndGlyphs">18124.5</text>
<rect x="0" y="235" width="1655" height="1" fill="#000"/>
<rect x="1657" y="230" width="41" height="11" fill="#000"/>
<text x="1661" y="239" font-size="10" fill="#fff" textLength="33" lengthAdjust="spacingAndGlyphs">21917.0</text>
<rect x="0" y="167" width="1655" height="2" fill="#f00"/>
<rect x="1657" y="162" width="41" height="11" fill="#f00"/>
<text x="1661" y="171" font-size="10" fill="#fff" textLength="33" lengthAdjust="spacingAndGlyphs">22582.3</text>
<rect x="0" y="194" width="1655" height="2" fill="#f00"/>
<rect x="1657" y="189" width="41" height="11" fill="#f00"/>
<text x="1661" y="198" font-size="10" fill="#fff" textLength="33" lengthAdjust="spacingAndGlyphs">22313.3</text>
<rect x="1649" y="192" width="6" height="6" fill="#f00"/>
<rect x="1651" y="194" width="2" height="2" fill="#fff"/>
<rect x="0" y="192" width="1" height="6" fill="#f00"/>
<rect x="0" y="228" width="1655" height="2" fill="#FFA500"/>
<rect x="1657" y="223" width="41" height="11" fill="#FFA500"/>
<text x="1661" y="232" font-size="10" fill="#fff" textLength="33" lengthAdjust="spacingAndGlyphs">21979.1</text>
<rect x="1649" y="226" width="6" height="6" fill="#FFA500"/>
<rect x="1651" y="228" width="2" height="2" fill="#fff"/>
<rect x="0" y="226" width="1" height="6" fill="#FFA500"/>
<rect x="0" y="280" width="1655" height="2" fill="#00f"/>
<rect x="1657" y="275" width="41" height="11" fill="#00f"/>
<text x="1661" y="284" font-size="10" fill="#fff" textLength="33" lengthAdjust="spacingAndGlyphs">21467.9</text>
<rect x="1649" y="278" width="6" height="6" fill="#00f"/>
<rect x="1651" y="280" width="2" height="2" fill="#fff"/>
<rect x="0" y="278" width="1" height="6" fill="#00f"/>
<rect x="0" y="312" width="1655" height="2" fill="#00f"/>
<rect x="1657" y="307" width="41" height="11" fill="#00f"/>
<text x="1661" y="316" font-size="10" fill="#fff" textLength="33" lengthAdjust="spacingAndGlyphs">21153.3</text>
<rect x="1649" y="310" width="6" height="6" fill="#00f"/>
<rect x="1651" y="312" width="2" height="2" fill="#fff"/>
<rect x="0" y="310" width="1" height="6" fill="#00f"/>
<path d="M0 28h7l-3.5 4z" fill="#000"/>
<text x="11" y="33" font-size="10" fill="#000" textLength="188" lengthAdjust="spacingAndGlyphs">HK50-,H4  21978.0 22003.0 21740.0 21917.0</text>
<path d="M1366 22h11l-5.5 5z" fill="#000"/>
<rect x="3" y="671" width="3" height="17" fill="#0f0"/>
<rect x="11" y="671" width="3" height="19" fill="#0f0"/>
<rect x="19" y="671" width="3" height="28" fill="#0f0"/>
<rect x="27" y="671" width="3" height="34" fill="#0f0"/>
<rect x="35" y="671" width="3" height="39" fill="#0f0"/>
<rect x="43" y="671" width="3" height="44" fill="#0f0"/>
<rect x="51" y="671" width="3" height="49" fill="#0f0"/>
<rect x="59" y="671" width="3" height="50" fill="#0f0"/>
<rect x="67" y="671" width="3" height="51" fill="#0f0"/>
<rect x="75" y="671" width="3" height="51" fill="#0f0"/>
<rect x="83" y="671" width="3" height="52" fill="#0f0"/>
<rect x="91" y="671" width="3" height="53" fill="#0f0"/>
<rect x="99" y="671" width="3" height="51" fill="#0f0"/>
<rect x="107" y="671" width="3" height="52" fill="#0f0"/>
<rect x="115" y="671" width="3" height="56" fill="#0f0"/>
<rect x="123" y="671" width="3" height="57" fill="#0f0"/>
<rect x="131" y="671" width="3" height="64" fill="#0f0"/>
<rect x="139" y="671" width="3" height="70" fill="#0f0"/>
<rect x="147" y="671" width="3" height="74" fill="#0f0"/>
<rect x="155" y="671" width="3" height="75" fill="#0f0"/>
<rect x="163" y="671" width="3" height="82" fill="#0f0"/>
<rect x="171" y="671" width="3" height="84" fill="#0f0"/>
<rect x="179" y="671" width="3" height="82" fill="#0f0"/>
<rect x="187" y="671" width="3" height="79" fill="#0f0"/>
<rect x="195" y="671" width="3" height="81" fill="#0f0"/>
<rect x="203" y="671" width="3" height="79" fill="#0f0"/>
<rect x="211" y="671" width="3" height="83" fill="#0f0"/>
<rect x="219" y="671" width="3" height="87" fill="#0f0"/>
<rect x="227" y="671" width="3" height="94" fill="#0f0"/>
<rect x="235" y="671" width="3" height="103" fill="#0f0"/>
<rect x="243" y="671" width="3" height="104" fill="#0f0"/>
<rect x="251" y="671" width="3" height="95" fill="#0f0"/>
<rect x="259" y="671" width="3" height="77" fill="#0f0"/>
<rect x="267" y="671" width="3" height="61" fill="#0f0"/>
<rect x="275" y="671" width="3" height="51" fill="#0f0"/>
<rect x="283" y="671" width="3" height="39" fill="#0f0"/>
<rect x="291" y="671" width="3" height="30" fill="#0f0"/>
<rect x="299" y="671" width="3" height="24" fill="#0f0"/>
<rect x="307" y="671" width="3" height="17" fill="#0f0"/>
<rect x="315" y="671" width="3" height="7" fill="#0f0"/>
<rect x="323" y="667" width="3" height="4" fill="#0f0"/>
<rect x="331" y="660" width="3" height="11" fill="#0f0"/>
<rect x="339" y="655" width="3" height="16" fill="#0f0"/>
<rect x="347" y="652" width="3" height="19" fill="#0f0"/>
<rect x="355" y="653" width="3" height="18" fill="#0f0"/>
<rect x="363" y="656" width="3" height="15" fill="#0f0"/>
<rect x="371" y="656" width="3" height="15" fill="#0f0"/>
<rect x="379" y="656" width="3" height="15" fill="#0f0"/>
<rect x="387" y="655" width="3" height="16" fill="#0f0"/>
<rect x="395" y="654" width="3" height="17" fill="#0f0"/>
<rect x="403" y="651" width="3" height="20" fill="#0f0"/>
<rect x="411" y="649" width="3" height="22" fill="#0f0"/>
<rect x="419" y="649" width="3" height="22" fill="#0f0"/>
<rect x="427" y="650" width="3" height="21" fill="#0f0"/>
<rect x="435" y="652" width="3" height="19" fill="#0f0"/>
<rect x="443" y="652" width="3" height="19" fill="#0f0"/>
<rect x="451" y="650" width="3" height="21" fill="#0f0"/>
<rect x="459" y="647" width="3" height="24" fill="#0f0"/>
<rect x="467" y="648" width="3" height="23" fill="#0f0"/>
<rect x="475" y="650" width="3" height="21" fill="#0f0"/>
<rect x="483" y="653" width="3" height="18" fill="#0f0"/>
<rect x="491" y="656" width="3" height="15" fill="#0f0"/>
<rect x="499" y="660" width="3" height="11" fill="#0f0"/>
<rect x="507" y="661" width="3" height="10" fill="#0f0"/>
<rect x="515" y="666" width="3" height="5" fill="#0f0"/>
<rect x="523" y="671" width="3" height="2" fill="#0f0"/>
<rect x="531" y="671" width="3" height="7" fill="#0f0"/>
<rect x="539" y="671" width="3" height="10" fill="#0f0"/>
<rect x="547" y="671" width="3" height="11" fill="#0f0"/>
<rect x="555" y="671" width="3" height="12" fill="#0f0"/>
<rect x="563" y="671" width="3" height="12" fill="#0f0"/>
<rect x="571" y="671" width="3" height="11" fill="#0f0"/>
<rect x="579" y="671" width="3" height="13" fill="#0f0"/>
<rect x="587" y="671" width="3" height="16" fill="#0f0"/>
<rect x="595" y="671" width="3" height="16" fill="#0f0"/>
<rect x="603" y="671" width="3" height="19" fill="#0f0"/>
<rect x="611" y="671" width="3" height="23" fill="#0f0"/>
<rect x="619" y="671" width="3" height="25" fill="#0f0"/>
<rect x="627" y="671" width="3" height="28" fill="#0f0"/>
<rect x="635" y="671" width="3" height="29" fill="#0f0"/>
<rect x="643" y="671" width="3" height="34" fill="#0f0"/>
<rect x="651" y="671" width="3" height="40" fill="#0f0"/>
<rect x="659" y="671" width="3" height="40" fill="#0f0"/>
<rect x="667" y="671" width="3" height="42" fill="#0f0"/>
<rect x="675" y="671" width="3" height="44" fill="#0f0"/>
<rect x="683" y="671" width="3" height="46" fill="#0f0"/>
<rect x="691" y="671" width="3" height="45" fill="#0f0"/>
<rect x="699" y="671" width="3" height="41" fill="#0f0"/>
<rect x="707" y="671" width="3" height="37" fill="#0f0"/>
<rect x="715" y="671" width="3" height="29" fill="#0f0"/>
<rect x="723" y="671" width="3" height="22" fill="#0f0"/>
<rect x="731" y="671" width="3" height="17" fill="#0f0"/>
<rect x="739" y="671" width="3" height="13" fill="#0f0"/>
<rect x="747" y="671" width="3" height="12" fill="#0f0"/>
<rect x="755" y="671" width="3" height="9" fill="#0f0"/>
<rect x="763" y="671" width="3" height="9" fill="#0f0"/>
<rect x="771" y="671" width="3" height="14" fill="#0f0"/>
<rect x="779" y="671" width="3" height="19" fill="#0f0"/>
<rect x="787" y="671" width="3" height="26" fill="#0f0"/>
<rect x="795" y="671" width="3" height="31" fill="#0f0"/>
<rect x="803" y="671" width="3" height="31" fill="#0f0"/>
<rect x="811" y="671" width="3" height="31" fill="#0f0"/>
<rect x="819" y="671" width="3" height="33" fill="#0f0"/>
<rect x="827" y="671" width="3" height="37" fill="#0f0"/>
<rect x="835" y="671" width="3" height="36" fill="#0f0"/>
<rect x="843" y="671" width="3" height="34" fill="#0f0"/>
<rect x="851" y="671" width="3" height="32" fill="#0f0"/>
<rect x="859" y="671" width="3" height="29" fill="#0f0"/>
<rect x="867" y="671" width="3" height="23" fill="#0f0"/>
<rect x="875" y="671" width="3" height="16" fill="#0f0"/>
<rect x="883" y="671" width="3" height="12" fill="#0f0"/>
<rect x="891" y="671" width="3" height="8" fill="#0f0"/>
<rect x="899" y="671" width="3" height="8" fill="#0f0"/>
<rect x="907" y="671" width="3" height="8" fill="#0f0"/>
<rect x="915" y="671" width="3" height="5" fill="#0f0"/>
<rect x="923" y="671" width="3" height="1" fill="#0f0"/>
<rect x="931" y="671" width="3" height="1" fill="#0f0"/>
<rect x="939" y="670" width="3" height="1" fill="#0f0"/>
<rect x="947" y="671" width="3" height="1" fill="#0f0"/>
<rect x="955" y="671" width="3" height="1" fill="#0f0"/>
<rect x="963" y="671" width="3" height="1" fill="#0f0"/>
<rect x="971" y="671" width="3" height="1" fill="#0f0"/>
<rect x="979" y="671" width="3" height="1" fill="#0f0"/>
<rect x="987" y="671" width="3" height="4" fill="#0f0"/>
<rect x="995" y="671" width="3" height="1" fill="#0f0"/>
<rect x="1003" y="668" width="3" height="3" fill="#0f0"/>
<rect x="1011" y="663" width="3" height="8" fill="#0f0"/>
<rect x="1019" y="659" width="3" height="12" fill="#0f0"/>
<rect x="1027" y="655" width="3" height="16" fill="#0f0"/>
<rect x="1035" y="650" width="3" height="21" fill="#0f0"/>
<rect x="1043" y="648" width="3" height="23" fill="#0f0"/>
<rect x="1051" y="647" width="3" height="24" fill="#0f0"/>
<rect x="1059" y="649" width="3" height="22" fill="#0f0"/>
<rect x="1067" y="650" width="3" height="21" fill="#0f0"/>
<rect x="1075" y="648" width="3" height="23" fill="#0f0"/>
<rect x="1083" y="644" width="3" height="27" fill="#0f0"/>
<rect x="1091" y="642" width="3" height="29" fill="#0f0"/>
<rect x="1099" y="642" width="3" height="29" fill="#0f0"/>
<rect x="1107" y="639" width="3" height="32" fill="#0f0"/>
<rect x="1115" y="637" width="3" height="34" fill="#0f0"/>
<rect x="1123" y="635" width="3" height="36" fill="#0f0"/>
<rect x="1131" y="634" width="3" height="37" fill="#0f0"/>
<rect x="1139" y="635" width="3" height="36" fill="#0f0"/>
<rect x="1147" y="636" width="3" height="35" fill="#0f0"/>
<rect x="1155" y="642" width="3" height="29" fill="#0f0"/>
<rect x="1163" y="649" width="3" height="22" fill="#0f0"/>
<rect x="1171" y="656" width="3" height="15" fill="#0f0"/>
<rect x="1179" y="660" width="3" height="11" fill="#0f0"/>
<rect x="1187" y="660" width="3" height="11" fill="#0f0"/>
<rect x="1195" y="661" width="3" height="10" fill="#0f0"/>
<rect x="1203" y="663" width="3" height="8" fill="#0f0"/>
<rect x="1211" y="667" width="3" height="4" fill="#0f0"/>
<rect x="1219" y="670" width="3" height="1" fill="#0f0"/>
<rect x="1227" y="670" width="3" height="1" fill="#0f0"/>
<rect x="1235" y="671" width="3" height="1" fill="#0f0"/>
<rect x="1243" y="670" width="3" height="1" fill="#0f0"/>
<rect x="1251" y="668" width="3" height="3" fill="#0f0"/>
<rect x="1259" y="666" width="3" height="5" fill="#0f0"/>
<rect x="1267" y="666" width="3" height="5" fill="#0f0"/>
<rect x="1275" y="668" width="3" height="3" fill="#0f0"/>
<rect x="1283" y="668" width="3" height="3" fill="#0f0"/>
<rect x="1291" y="668" width="3" height="3" fill="#0f0"/>
<rect x="1299" y="665" width="3" height="6" fill="#0f0"/>
<rect x="1307" y="663" width="3" height="8" fill="#0f0"/>
<rect x="1315" y="655" width="3" height="16" fill="#0f0"/>
<rect x="1323" y="650" width="3" height="21" fill="#0f0"/>
<rect x="1331" y="649" width="3" height="22" fill="#0f0"/>
<rect x="1339" y="645" width="3" height="26" fill="#0f0"/>
<rect x="1347" y="645" width="3" height="26" fill="#0f0"/>
<rect x="1355" y="646" width="3" height="25" fill="#0f0"/>
<polyline points="0.5,669.0 20.5,678.0 40.5,691.0 60.5,704.0 80.5,713.3 100.5,720.0 120.5,723.0 132.5,724.0 140.5,726.3 160.5,734.0 180.5,742.3 200.5,749.0 212.5,750.5 228.5,755.0 244.5,759.0 252.5,760.2 260.5,760.0 268.5,758.0 276.5,755.0 284.5,750.3 292.5,744.0 300.5,736.0 308.5,726.0 316.5,715.0 324.5,704.0 332.5,694.0 340.5,688.0 350.5,677.0 356.5,672.0 364.5,667.0 372.5,663.0 380.5,659.5 388.5,657.5 396.5,655.4 404.5,654.4 420.5,653.6 436.5,652.6 452.5,651.4 460.5,650.4 468.5,649.6 484.5,650.0 492.5,651.4 500.5,652.6 508.5,653.6 516.5,654.0 524.5,657.0 532.5,660.4 540.5,664.4 548.5,667.5 556.5,671.3 564.5,673.0 572.5,676.3 580.5,678.3 588.5,680.5 596.5,682.3 604.5,683.3 612.5,685.5 620.5,686.5 628.5,688.3 636.5,690.0 644.5,693.3 652.5,697.0 660.5,698.4 668.5,701.5 676.5,704.5 684.5,707.5 692.5,709.5 700.5,710.5 708.5,711.0 716.5,711.0 724.5,709.5 732.5,706.5 740.5,703.5 748.5,700.0 756.5,696.3 764.5,692.0 772.5,688.3 780.5,686.5 788.5,686.5 796.5,687.5 804.5,688.3 812.5,690.3 820.5,693.5 828.5,696.3 836.5,699.5 844.5,701.5 852.5,702.5 860.5,703.0 868.5,702.5 876.5,700.5 884.5,699.0 892.5,696.0 900.5,692.5 908.5,689.5 916.5,686.3 924.5,683.0 932.5,680.0 940.5,676.5 948.5,675.5 956.5,673.3 964.5,673.0 972.5,672.3 980.5,671.3 988.5,671.0 996.5,671.0 1004.5,671.0 1012.5,670.4 1020.5,669.3 1028.5,667.5 1036.5,665.3 1044.5,662.4 1052.5,660.4 1060.5,657.5 1068.5,654.8 1076.5,652.6 1084.5,650.8 1092.5,648.1 1100.5,647.0 1108.5,645.9 1116.5,644.1 1124.5,643.4 1132.5,641.4 1140.5,640.7 1148.5,638.5 1156.5,638.5 1164.5,639.2 1172.5,640.1 1180.5,643.4 1188.5,645.7 1196.5,648.6 1204.5,651.5 1212.5,655.3 1220.5,658.6 1228.5,662.0 1236.5,664.2 1244.5,666.4 1252.5,666.9 1260.5,667.1 1268.5,668.0 1276.5,668.0 1292.5,668.0 1300.5,668.0 1308.5,667.5 1316.5,665.3 1324.5,663.5 1332.5,662.0 1340.5,659.7 1348.5,657.9 1356.5,654.8" fill="none" stroke="#f00" stroke-width="2" stroke-linejoin="round"/>
<text x="0" y="639" font-size="10" fill="#000" textLength="127.5" lengthAdjust="spacingAndGlyphs">MACD(12,26,9) 258.05 174.85</text>
<rect x="1656" y="628" width="2" height="1" fill="#000"/>
<text x="1659" y="637" font-size="10" fill="#000" textLength="23" lengthAdjust="spacingAndGlyphs">440.4</text>
<rect x="1656" y="671" width="2" height="1" fill="#000"/>
<text x="1659" y="675" font-size="10" fill="#000" textLength="17.5" lengthAdjust="spacingAndGlyphs">0.00</text>
<rect x="1656" y="781" width="2" height="1" fill="#000"/>
<text x="1659" y="779" font-size="10" fill="#000" textLength="36" lengthAdjust="spacingAndGlyphs">-1102.21</text>
<path d="M3 813.5H1655" stroke="#000" stroke-width="1" stroke-dasharray="3 3" fill="none"/>
<path d="M3 853.5H1655" stroke="#000" stroke-width="1" stroke-dasharray="3 3" fill="none"/>
<path d="M3 901.5H1655" stroke="#000" stroke-width="1" stroke-dasharray="3 3" fill="none"/>
<polyline points="-3.5,871.4 4.5,869.9 12.5,868.9 20.5,882.9 28.5,882.9 36.5,882.9 44.5,885.3 52.5,887.9 60.5,879.3 68.5,879.5 76.5,880.3 84.5,882.3 92.5,883.9 100.5,882.5 108.5,881.9 116.5,889.9 124.5,888.9 132.5,896.9 140.5,897.9 148.5,897.9 156.5,898.3 164.5,902.3 172.5,892.9 180.5,882.9 188.5,882.9 196.5,888.9 204.5,881.9 212.5,888.5 220.5,890.5 228.5,894.5 236.5,898.3 244.5,887.9 252.5,864.9 260.5,851.3 268.5,849.5 276.5,853.9 284.5,849.5 292.5,849.9 300.5,852.3 308.5,849.3 316.5,844.5 324.5,841.9 332.5,842.9 340.5,842.7 348.5,846.3 356.5,851.3 364.5,853.9 372.5,849.9 380.5,849.3 388.5,848.5 396.5,845.5 404.5,842.9 412.5,842.9 420.5,845.9 428.5,845.9 436.5,849.9 444.5,846.5 452.5,841.5 460.5,839.9 468.5,845.3 476.5,848.3 484.5,853.5 492.5,853.9 500.5,855.9 508.5,851.9 516.5,863.5 524.5,866.5 532.5,866.9 540.5,861.5 548.5,860.9 556.5,860.9 564.5,857.5 572.5,856.9 580.5,865.5 588.5,866.9 596.5,862.5 604.5,867.5 612.5,872.9 620.5,871.5 628.5,871.5 636.5,871.5 644.5,880.5 652.5,883.3 660.5,870.5 668.5,875.5 676.5,876.3 684.5,876.5 692.5,869.9 700.5,867.5 708.5,857.9 716.5,848.3 724.5,847.9 732.5,848.9 740.5,854.3 748.5,854.5 756.5,850.9 764.5,855.9 772.5,870.3 780.5,870.9 788.5,877.5 796.5,874.5 804.5,865.9 812.5,866.9 820.5,870.9 828.5,874.9 836.5,864.3 844.5,862.9 852.5,862.9 860.5,858.9 868.5,850.5 876.5,846.9 884.5,849.5 892.5,848.9 900.5,856.5 908.5,856.5 916.5,848.9 924.5,846.9 932.5,852.5 940.5,850.9 948.5,855.5 956.5,855.5 964.5,853.5 972.5,855.5 980.5,855.5 988.5,856.9 996.5,847.3 1004.5,847.2 1012.5,838.7 1020.5,838.7 1028.5,837.6 1036.5,831.6 1044.5,839.4 1052.5,839.8 1060.5,848.1 1068.5,845.4 1076.5,840.9 1084.5,833.6 1092.5,836.5 1100.5,840.3 1108.5,833.1 1116.5,832.4 1124.5,831.6 1132.5,834.2 1140.5,836.5 1148.5,836.9 1156.5,853.9 1164.5,859.5 1172.5,861.0 1180.5,858.8 1188.5,849.9 1196.5,849.9 1204.5,853.2 1212.5,862.1 1220.5,857.2 1228.5,855.4 1236.5,854.8 1244.5,852.8 1252.5,845.0 1260.5,843.6 1268.5,850.3 1276.5,857.0 1284.5,853.2 1292.5,850.5 1300.5,843.2 1308.5,842.7 1316.5,828.7 1324.5,833.6 1332.5,842.0 1340.5,835.8 1348.5,843.8 1356.5,843.8" fill="none" stroke="#1E90FF" stroke-width="2" stroke-linejoin="round"/>
<text x="0" y="797" font-size="10" fill="#000" textLength="68" lengthAdjust="spacingAndGlyphs">RSI(15) 57.0180</text>
<rect x="1656" y="786" width="2" height="1" fill="#000"/>
<text x="1659" y="795" font-size="10" fill="#000" textLength="15" lengthAdjust="spacingAndGlyphs">100</text>
<text x="1658" y="817" font-size="10" fill="#000" textLength="10" lengthAdjust="spacingAndGlyphs">80</text>
<text x="1658" y="857" font-size="10" fill="#000" textLength="10" lengthAdjust="spacingAndGlyphs">50</text>
<text x="1658" y="905" font-size="10" fill="#000" textLength="10" lengthAdjust="spacingAndGlyphs">15</text>
<rect x="1656" y="921" width="2" height="1" fill="#000"/>
<text x="1659" y="919" font-size="10" fill="#000" textLength="5.5" lengthAdjust="spacingAndGlyphs">0</text>
<text x="0" y="935" font-size="10" fill="#000" textLength="46.5" lengthAdjust="spacingAndGlyphs">2 Feb 2022</text>
<rect x="60" y="923" width="1" height="3" fill="#000"/>
<text x="59" y="935" font-size="10" fill="#000" textLength="54.6" lengthAdjust="spacingAndGlyphs">28 Feb 05:00</text>
<rect x="124" y="923" width="1" height="3" fill="#000"/>
<text x="123" y="935" font-size="10" fill="#000" textLength="50.0" lengthAdjust="spacingAndGlyphs">4 Mar 05:00</text>
<rect x="188" y="923" width="1" height="3" fill="#000"/>
<text x="187" y="935" font-size="10" fill="#000" textLength="55.1" lengthAdjust="spacingAndGlyphs">10 Mar 05:00</text>
<rect x="252" y="923" width="1" height="3" fill="#000"/>
<text x="251" y="935" font-size="10" fill="#000" textLength="55.1" lengthAdjust="spacingAndGlyphs">16 Mar 05:00</text>
<rect x="316" y="923" width="1" height="3" fill="#000"/>
<text x="315" y="935" font-size="10" fill="#000" textLength="55.1" lengthAdjust="spacingAndGlyphs">22 Mar 05:00</text>
<rect x="380" y="923" width="1" height="3" fill="#000"/>
<text x="379" y="935" font-size="10" fill="#000" textLength="55.1" lengthAdjust="spacingAndGlyphs">28 Mar 05:00</text>
<rect x="444" y="923" width="1" height="3" fill="#000"/>
<text x="443" y="935" font-size="10" fill="#000" textLength="48.7" lengthAdjust="spacingAndGlyphs">1 Apr 05:00</text>
<rect x="508" y="923" width="1" height="3" fill="#000"/>
<text x="507" y="935" font-size="10" fill="#000" textLength="48.7" lengthAdjust="spacingAndGlyphs">8 Apr 05:00</text>
<rect x="572" y="923" width="1" height="3" fill="#000"/>
<text x="571" y="935" font-size="10" fill="#000" textLength="53.8" lengthAdjust="spacingAndGlyphs">14 Apr 05:00</text>
<rect x="636" y="923" width="1" height="3" fill="#000"/>
<text x="635" y="935" font-size="10" fill="#000" textLength="53.8" lengthAdjust="spacingAndGlyphs">22 Apr 05:00</text>
<rect x="700" y="923" width="1" height="3" fill="#000"/>
<text x="699" y="935" font-size="10" fill="#000" textLength="53.8" lengthAdjust="spacingAndGlyphs">28 Apr 05:00</text>
<rect x="764" y="923" width="1" height="3" fill="#000"/>
<text x="763" y="935" font-size="10" fill="#000" textLength="52.1" lengthAdjust="spacingAndGlyphs">5 May 05:00</text>
<rect x="828" y="923" width="1" height="3" fill="#000"/>
<text x="827" y="935" font-size="10" fill="#000" textLength="57.2" lengthAdjust="spacingAndGlyphs">12 May 05:00</text>
<rect x="892" y="923" width="1" height="3" fill="#000"/>
<text x="891" y="935" font-size="10" fill="#000" textLength="57.2" lengthAdjust="spacingAndGlyphs">18 May 05:00</text>
<rect x="956" y="923" width="1" height="3" fill="#000"/>
<text x="955" y="935" font-size="10" fill="#000" textLength="57.2" lengthAdjust="spacingAndGlyphs">24 May 05:00</text>
<rect x="1020" y="923" width="1" height="3" fill="#000"/>
<text x="1019" y="935" font-size="10" fill="#000" textLength="57.2" lengthAdjust="spacingAndGlyphs">30 May 05:00</text>
<rect x="1084" y="923" width="1" height="3" fill="#000"/>
<text x="1083" y="935" font-size="10" fill="#000" textLength="48.9" lengthAdjust="spacingAndGlyphs">6 Jun 05:00</text>
<rect x="1148" y="923" width="1" height="3" fill="#000"/>
<text x="1147" y="935" font-size="10" fill="#000" textLength="54.0" lengthAdjust="spacingAndGlyphs">10 Jun 05:00</text>
<rect x="1212" y="923" width="1" height="3" fill="#000"/>
<text x="1211" y="935" font-size="10" fill="#000" textLength="54.0" lengthAdjust="spacingAndGlyphs">16 Jun 05:00</text>
<rect x="1276" y="923" width="1" height="3" fill="#000"/>
<text x="1275" y="935" font-size="10" fill="#000" textLength="54.0" lengthAdjust="spacingAndGlyphs">22 Jun 05:00</text>
<rect x="1340" y="923" width="1" height="3" fill="#000"/>
<text x="1339" y="935" font-size="10" fill="#000" textLength="54.0" lengthAdjust="spacingAndGlyphs">28 Jun 05:00</text>
<rect x="1701" y="19" width="1" height="924" fill="#f0f0f0"/>
<g id="toolbar">
<rect x="0" y="0" width="1702" height="16" fill="#f0f0f0"/>
<rect x="0" y="16" width="1702" height="1" fill="#f4f4f4"/>
<rect x="0" y="17" width="1702" height="1" fill="#a6a6a6"/>
<rect x="0" y="18" width="1702" height="1" fill="#7c7c7c"/>
<g shape-rendering="geometricPrecision">
<circle cx="0.6" cy="5.2" r="4.2" fill="#d4e6f8" stroke="#6f9fda" stroke-width="1.1"/>
<path d="M4.6 9.4L8.3 13.6" stroke="#c9a233" stroke-width="2.2" stroke-linecap="round"/>
<rect x="16" y="0" width="1" height="15" fill="#a0a0a0" shape-rendering="crispEdges"/>
<path d="M26.5 -1V9.5q0 1 1 1H37.5V-1z" fill="#fff" stroke="#666" stroke-width="1"/>
<path d="M28.5 2.5h7M28.5 5.5h5" stroke="#888" stroke-width="1"/>
<path d="M34.4 3.5999999999999996h3.2v4h4v3.2h-4v4h-3.2v-4h-4v-3.2h4z" fill="#35e035" stroke="#119411" stroke-width="1" stroke-linejoin="round"/>
<g stroke="#0a0a0a" stroke-width="1.15" fill="none" stroke-linecap="square">
<path d="M45.5 1.5h5M45.5 3.5h5M48 3.5V8.5M48 5l-2.5 3M48 5l2.5 2.5M52 0V3.5Q52 7 51 8.5M52 2.5h5M55 2.5V8.5"/>
<path d="M58.5 0.5l1 1M58 3.5h1.5V7.5l1.5 -1M61.5 0.5h5.5M64.5 0.5V7.5q0 1 -2 1"/>
<path d="M71.5 0V4.5h7V0M71.5 2.5h7M69 6.5h12M75 0V8.8"/>
</g>
<defs><linearGradient id="gb" x1="0" y1="0" x2="1" y2="1"><stop offset="0" stop-color="#fff0a0"/><stop offset=".45" stop-color="#f3c62c"/><stop offset="1" stop-color="#d89a14"/></linearGradient></defs>
<path d="M97.600 -0.500L92.900 7L100.300 12.600L108.800 6.400L102.600 -0.500z" fill="#b9821c" stroke="#a06a12" stroke-width=".8" stroke-linejoin="round"/>
<path d="M97.600 -0.500L93.300 6L100.400 10.800L107.800 5.300L102.600 -0.500z" fill="url(#gb)"/>
<path d="M94 7.200L100.400 11.700L108 6.300" stroke="#f6dc86" stroke-width=".7" fill="none"/>
<rect x="123.3" y="-1" width="10.7" height="8" fill="#1f9bf0"/>
<rect x="125.6" y="-1" width="1.2" height="7" fill="#e8f4ff"/>
<path d="M128 2h5" stroke="#bfe2ff" stroke-width="1"/>
<path d="M123.600 12.400q-2.500 0 -2.400 -2.300q.1 -2.100 2.500 -2.200q.7 -2.700 3.500 -2.700q2.200 0 3.100 1.900q1.300 -.9 2.700 -.3q1.500 .7 1.500 2.400q2.400 .1 2.400 1.700q0 1.500 -1.900 1.500z" fill="#e6ecf6" stroke="#5878b2" stroke-width="1"/>
<circle cx="157" cy="5" r="7.4" fill="none" stroke="#a9c3ea" stroke-width="1.1"/>
<circle cx="157" cy="5" r="4.6" fill="none" stroke="#88aee4" stroke-width="1.1"/>
<path d="M157 5V12.4A7.4 7.4 0 0 0 164.4 5A7.4 7.4 0 0 0 160.500 -1.500z" fill="#7fbf7f" opacity=".75"/>
<path d="M157.3 5V12.6" stroke="#1e9e1e" stroke-width="1.4"/>
<circle cx="157" cy="4.700" r="1.7" fill="#2262d2"/>
<path d="M176.600 3Q177 9 184.700 12.600L191 6.500V3z" fill="#f7d936" stroke="#d0a820" stroke-width=".8" stroke-linejoin="round"/>
<ellipse cx="183.800" cy="1.500" rx="7.300" ry="3.300" fill="#55aede" stroke="#3b8fc4" stroke-width=".8"/>
<circle cx="188.500" cy="8.800" r="4.100" fill="#df2412"/>
<rect x="187" y="7.300" width="3" height="3" fill="#fff"/>
<g stroke="#0a0a0a" stroke-width="1.15" fill="none" stroke-linecap="square">
<path d="M198.500 0V8.500h9V0M198.500 1.500h9M198.500 4.500h9"/>
<path d="M210.500 0.500h4M210 3.500h5M212.500 3.500l-2 4.500h4M216.500 0.500h4V6.500q0 2 -2 2M218 0.500Q218 6 215.500 8.500"/>
<path d="M222 1.500h10.500M224.500 3l-2 2M229.500 3l2.500 2M229.500 4Q227 8 222 8.600M225 4.500Q228 8 232.500 8.600"/>
<path d="M235.500 0V2.500h7V0M235.500 1h7M236 2.500L234.500 4.500h9.500V7.500q0 1 -1.500 1M238.500 4.500L235 8.500M241 4.500L238 8.500"/>
</g>
<rect x="252" y="0" width="1" height="17" fill="#a0a0a0" shape-rendering="crispEdges"/><rect x="253" y="0" width="1" height="17" fill="#fff" shape-rendering="crispEdges"/>
<rect x="256" y="1" width="3" height="1" fill="#a8a8a8" shape-rendering="crispEdges"/>
<rect x="256" y="3" width="3" height="1" fill="#a8a8a8" shape-rendering="crispEdges"/>
<rect x="256" y="5" width="3" height="1" fill="#a8a8a8" shape-rendering="crispEdges"/>
<rect x="256" y="7" width="3" height="1" fill="#a8a8a8" shape-rendering="crispEdges"/>
<rect x="256" y="9" width="3" height="1" fill="#a8a8a8" shape-rendering="crispEdges"/>
<rect x="256" y="11" width="3" height="1" fill="#a8a8a8" shape-rendering="crispEdges"/>
<rect x="256" y="13" width="3" height="1" fill="#a8a8a8" shape-rendering="crispEdges"/>
<path d="M270.5 0V13M268 10.5H281M279 8.5l2.5 2l-2.5 2" stroke="#555" stroke-width="1" fill="none"/>
<path d="M276.800 0V8.500M276.800 1.500h2.400M274.200 7.500h2.600" stroke="#139213" stroke-width="1.400" fill="none"/>
<rect x="290" y="0" width="1" height="15" fill="#a0a0a0" shape-rendering="crispEdges"/>
<rect x="291" y="0" width="24" height="15" fill="#f9f9f9" shape-rendering="crispEdges"/>
<path d="M298.5 0V13M296 10.5H309M307 8.5l2.5 2l-2.5 2" stroke="#555" stroke-width="1" fill="none"/>
<path d="M304.500 6V9" stroke="#139213" stroke-width="1.200"/>
<rect x="302.500" y="-1" width="4.200" height="7.400" fill="#35d435" stroke="#139213" stroke-width="1"/>
<path d="M326.5 0V13M324 10.5H337M335 8.5l2.5 2l-2.5 2" stroke="#555" stroke-width="1" fill="none"/>
<path d="M325.200 7.800Q328.500 3 331 2.400Q333.500 3 336.800 6.200" stroke="#2a9a2a" stroke-width="1.300" fill="none"/>
<rect x="347" y="0" width="1" height="15" fill="#a0a0a0" shape-rendering="crispEdges"/>
<path d="M365.8 7.200L370.8 11.600" stroke="#d9b325" stroke-width="2.800" stroke-linecap="round"/>
<path d="M365.8 7.200L370.8 11.600" stroke="#f3de6a" stroke-width="1" stroke-linecap="round"/>
<circle cx="362" cy="3" r="5.600" fill="#d3edfb" stroke="#3c80ca" stroke-width="1.200"/>
<path d="M358.7 3h6.600M362 0V6.300" stroke="#4a8fb4" stroke-width="1.600"/>
<path d="M394.0 7.200L399.0 11.600" stroke="#d9b325" stroke-width="2.800" stroke-linecap="round"/>
<path d="M394.0 7.200L399.0 11.600" stroke="#f3de6a" stroke-width="1" stroke-linecap="round"/>
<circle cx="390.2" cy="3" r="5.600" fill="#d3edfb" stroke="#3c80ca" stroke-width="1.200"/>
<path d="M386.9 3h6.600" stroke="#4a8fb4" stroke-width="1.600"/>
<rect x="412.3" y="-2.7" width="7.600" height="7.400" fill="#3ba61f"/>
<path d="M413.8 3.8V0.2999999999999998h4.600V3.8" fill="#fff" stroke="#fff" stroke-width=".6"/>
<path d="M414.6 1.5h3" stroke="#9bd48a" stroke-width=".9"/>
<rect x="420.2" y="-2.7" width="7.600" height="7.400" fill="#2456d3"/>
<path d="M421.7 3.8V0.2999999999999998h4.600V3.8" fill="#fff" stroke="#fff" stroke-width=".6"/>
<path d="M422.5 1.5h3" stroke="#90a8ee" stroke-width=".9"/>
<rect x="412.3" y="5.2" width="7.600" height="7.400" fill="#2456d3"/>
<path d="M413.8 11.7V8.2h4.600V11.7" fill="#fff" stroke="#fff" stroke-width=".6"/>
<path d="M414.6 9.4h3" stroke="#90a8ee" stroke-width=".9"/>
<rect x="420.2" y="5.2" width="7.600" height="7.400" fill="#3ba61f"/>
<path d="M421.7 11.7V8.2h4.600V11.7" fill="#fff" stroke="#fff" stroke-width=".6"/>
<path d="M422.5 9.4h3" stroke="#9bd48a" stroke-width=".9"/>
<rect x="437" y="0" width="1" height="15" fill="#a0a0a0" shape-rendering="crispEdges"/>
<rect x="442" y="0" width="1" height="15" fill="#a0a0a0" shape-rendering="crispEdges"/>
<rect x="443" y="0" width="25" height="15" fill="#f9f9f9" shape-rendering="crispEdges"/>
<path d="M450.5 0V13M448 10.5H461M459 8.5l2.5 2l-2.5 2" stroke="#555" stroke-width="1" fill="none"/>
<path d="M455.200 1.200V7.900L459.200 4.600z" fill="#6ad86a" stroke="#139213" stroke-width="1" stroke-linejoin="round"/>
<rect x="470" y="0" width="1" height="15" fill="#a0a0a0" shape-rendering="crispEdges"/>
<rect x="471" y="0" width="24" height="15" fill="#f9f9f9" shape-rendering="crispEdges"/>
<path d="M478.5 0V13M476 10.5H489M487 8.5l2.5 2l-2.5 2" stroke="#555" stroke-width="1" fill="none"/>
<path d="M484.500 0V8.800" stroke="#1c6ca2" stroke-width="1.400"/>
<path d="M485.600 4.400h4.400M485.400 4.400l2.600 -2.200v4.400z" stroke="#e0561a" stroke-width="1" fill="#e0561a"/>
<rect x="499" y="0" width="1" height="15" fill="#a0a0a0" shape-rendering="crispEdges"/>
<path d="M509.500 -1V9.500q0 1 1 1H520.500V-1z" fill="#fff" stroke="#666" stroke-width="1"/>
<path d="M512.500 1V7" stroke="#555" stroke-width="1"/>
<path d="M517.6 3.5999999999999996h3.2v4h4v3.2h-4v4h-3.2v-4h-4v-3.2h4z" fill="#35e035" stroke="#119411" stroke-width="1" stroke-linejoin="round"/>
<path d="M531 4h6l-3 3z" fill="#000"/>
<circle cx="555" cy="5" r="6.800" fill="#f4f7fb" stroke="#1b7bd8" stroke-width="2.400"/>
<circle cx="555" cy="5" r="8" fill="none" stroke="#0f5cab" stroke-width=".5"/>
<path d="M554.500 1.500V5.300h2.700" stroke="#222" stroke-width="1.200" fill="none"/>
<path d="M570 4h6l-3 3z" fill="#000"/>
<rect x="586.500" y="-1" width="15.200" height="12.500" fill="#fff" stroke="#3b7aca" stroke-width="1.200"/>
<path d="M586.500 5.900h15.200" stroke="#3b7aca" stroke-width="1"/>
<path d="M588.300 4.300h1.800l1.700 -1.600h1.500l1.400 .9h1.700l1.400 -1h1.300" stroke="#8c2410" stroke-width="1.100" fill="none"/>
<path d="M589.300 9.400h1.700l1.300 -.9l1.700 1l1.600 -.3l1.700 -1.900l1.700 .3l1.300 1.700" stroke="#14942a" stroke-width="1.100" fill="none"/>
<path d="M609 4h6l-3 3z" fill="#000"/>
<rect x="620" y="0" width="1" height="17" fill="#a0a0a0" shape-rendering="crispEdges"/><rect x="621" y="0" width="1" height="17" fill="#fff" shape-rendering="crispEdges"/>
<rect x="624" y="1" width="3" height="1" fill="#a8a8a8" shape-rendering="crispEdges"/>
<rect x="624" y="3" width="3" height="1" fill="#a8a8a8" shape-rendering="crispEdges"/>
<rect x="624" y="5" width="3" height="1" fill="#a8a8a8" shape-rendering="crispEdges"/>
<rect x="624" y="7" width="3" height="1" fill="#a8a8a8" shape-rendering="crispEdges"/>
<rect x="624" y="9" width="3" height="1" fill="#a8a8a8" shape-rendering="crispEdges"/>
<rect x="624" y="11" width="3" height="1" fill="#a8a8a8" shape-rendering="crispEdges"/>
<rect x="624" y="13" width="3" height="1" fill="#a8a8a8" shape-rendering="crispEdges"/>
<rect x="630" y="0" width="1" height="15" fill="#a0a0a0" shape-rendering="crispEdges"/>
<rect x="631" y="0" width="24" height="15" fill="#f9f9f9" shape-rendering="crispEdges"/>
<path d="M638.200 -1V8.800L640.300 7L643.500 11.800L645 10.900L642.300 6.200L645.800 5.600L640.300 -1z" fill="#4a4a4a"/>
<path d="M663 5.500h6M672 5.500h6M670.500 0V4M670.500 7V12.600" stroke="#555" stroke-width="1" shape-rendering="crispEdges"/>
<rect x="687" y="0" width="1" height="15" fill="#a0a0a0" shape-rendering="crispEdges"/>
<path d="M704.500 0V11.800M727 5.500h12" stroke="#555" stroke-width="1" shape-rendering="crispEdges"/>
<path d="M754.800 12L767.500 0" stroke="#555" stroke-width="1.100"/>
<path d="M781 7L788.500 -0.500M782.500 11.600L794.700 1M786.200 11.600L795 3.500" stroke="#555" stroke-width="1"/>
<path d="M784 6.500l1 3M786 4.500l1 3.500M788 3l1 3M790 1l1 3M792 0l1 2.500" stroke="#555" stroke-width=".9"/>
<text x="791.700" y="13.700" font-size="7" font-weight="bold" fill="#333">E</text>
<path d="M810 1.5h13" stroke="#555" stroke-width="1" stroke-dasharray="1 1" shape-rendering="crispEdges"/>
<path d="M810 5.5h13" stroke="#555" stroke-width="1" stroke-dasharray="1 1" shape-rendering="crispEdges"/>
<path d="M810 9.5h9" stroke="#555" stroke-width="1" stroke-dasharray="1 1" shape-rendering="crispEdges"/>
<text x="819.800" y="13.700" font-size="7" font-weight="bold" fill="#333">F</text>
<text x="840.300" y="9.800" font-size="12" fill="#555" textLength="8.500" lengthAdjust="spacingAndGlyphs" stroke="#555" stroke-width=".3">A</text>
<rect x="867.500" y="1.500" width="11" height="10" fill="none" stroke="#555" stroke-width="1" stroke-dasharray="1 1" shape-rendering="crispEdges"/>
<text x="869" y="9.600" font-size="10" font-weight="bold" fill="#555" textLength="8" lengthAdjust="spacingAndGlyphs">T</text>
<path d="M894.200 3L897.300 -0.500L900.500 3z" fill="#444"/>
<path d="M896.300 6.500l1.900 1.900l4 -4.700" stroke="#444" stroke-width="1.300" fill="none"/>
<path d="M901 8.300h7L904.500 11.700z" fill="#444"/><path d="M902.600 6.800h3.800v1.600h-3.800z" fill="#444"/>
<path d="M915 4h6l-3 3z" fill="#000"/>
<rect x="926" y="0" width="1" height="17" fill="#a0a0a0" shape-rendering="crispEdges"/><rect x="927" y="0" width="1" height="17" fill="#fff" shape-rendering="crispEdges"/>
<rect x="930" y="1" width="3" height="1" fill="#a8a8a8" shape-rendering="crispEdges"/>
<rect x="930" y="3" width="3" height="1" fill="#a8a8a8" shape-rendering="crispEdges"/>
<rect x="930" y="5" width="3" height="1" fill="#a8a8a8" shape-rendering="crispEdges"/>
<rect x="930" y="7" width="3" height="1" fill="#a8a8a8" shape-rendering="crispEdges"/>
<rect x="930" y="9" width="3" height="1" fill="#a8a8a8" shape-rendering="crispEdges"/>
<rect x="930" y="11" width="3" height="1" fill="#a8a8a8" shape-rendering="crispEdges"/>
<rect x="930" y="13" width="3" height="1" fill="#a8a8a8" shape-rendering="crispEdges"/>
<rect x="1077" y="0" width="1" height="15" fill="#a0a0a0" shape-rendering="crispEdges"/>
<rect x="1078" y="0" width="23" height="15" fill="#f9f9f9" shape-rendering="crispEdges"/>
<text x="941.5" y="9.200" font-size="10" fill="#4a4a4a" textLength="13" lengthAdjust="spacingAndGlyphs">M1</text>
<text x="969.5" y="9.200" font-size="10" fill="#4a4a4a" textLength="13" lengthAdjust="spacingAndGlyphs">M5</text>
<text x="995.5" y="9.200" font-size="10" fill="#4a4a4a" textLength="18" lengthAdjust="spacingAndGlyphs">M15</text>
<text x="1024" y="9.200" font-size="10" fill="#4a4a4a" textLength="17.5" lengthAdjust="spacingAndGlyphs">M30</text>
<text x="1055" y="9.200" font-size="10" fill="#4a4a4a" textLength="11.5" lengthAdjust="spacingAndGlyphs">H1</text>
<text x="1082" y="9.200" font-size="10" fill="#4a4a4a" textLength="11.5" lengthAdjust="spacingAndGlyphs">H4</text>
<text x="1110" y="9.200" font-size="10" fill="#4a4a4a" textLength="12" lengthAdjust="spacingAndGlyphs">D1</text>
<text x="1137" y="9.200" font-size="10" fill="#4a4a4a" textLength="15" lengthAdjust="spacingAndGlyphs">W1</text>
<text x="1165" y="9.200" font-size="10" fill="#4a4a4a" textLength="14.5" lengthAdjust="spacingAndGlyphs">MN</text>
<rect x="1187" y="0" width="1" height="17" fill="#a0a0a0" shape-rendering="crispEdges"/>
<path d="M1654.300 5.600L1650 10" stroke="#2a5cd0" stroke-width="2.600" stroke-linecap="round"/>
<circle cx="1657.500" cy="2" r="4" fill="#f3f3f3" stroke="#2a6ad8" stroke-width="1.300"/>
<path d="M1676.500 11.300L1677.400 13.800L1680.500 11.500z" fill="#a9a9a9"/>
<ellipse cx="1680" cy="7" rx="6.200" ry="4.700" fill="#dcdce2" stroke="#c4c4c8" stroke-width=".8"/>
<circle cx="1688.400" cy="2.300" r="8.200" fill="#e0341c"/>
<text x="1684.600" y="7" font-size="13" fill="#fff" font-family="Liberation Serif, serif" stroke="#fff" stroke-width=".35">1</text>
</g></g>
</svg>
</body></html>
